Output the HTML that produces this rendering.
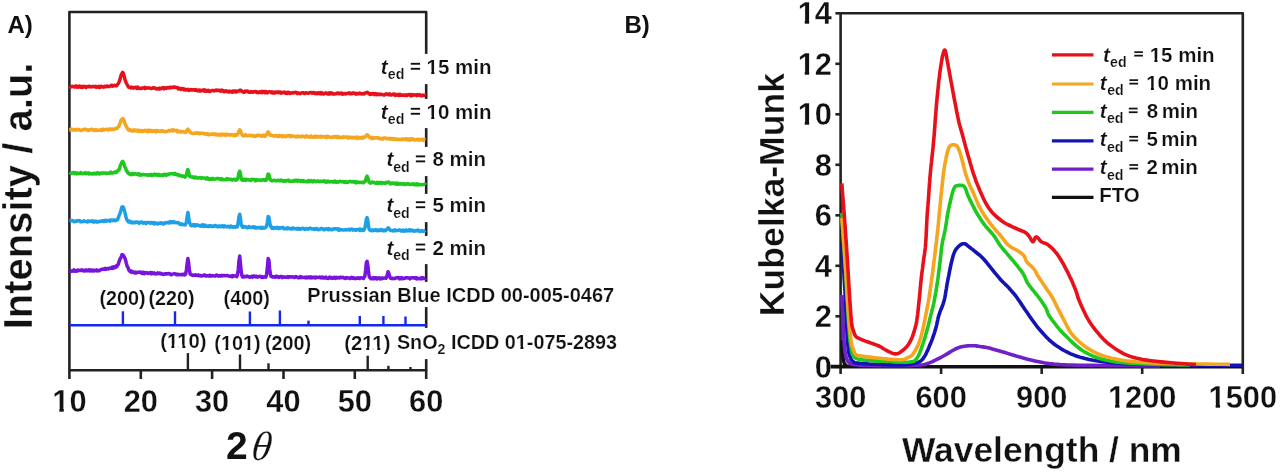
<!DOCTYPE html>
<html><head><meta charset="utf-8"><title>Figure</title>
<style>html,body{margin:0;padding:0;background:#fff;width:1280px;height:474px;overflow:hidden}
svg{display:block;filter:blur(0.5px);font-family:"Liberation Sans", sans-serif}</style></head>
<body>
<svg width="1280" height="474" viewBox="0 0 1280 474">
<rect width="1280" height="474" fill="#fff"/>
<g stroke="#222" stroke-width="2.6" fill="none" stroke-linecap="butt">
<path d="M69.4 12.0 L426.2 12.0 L426.2 370.2 L69.4 370.2 Z" stroke-linejoin="round"/>
<line x1="69.4" y1="370.2" x2="69.4" y2="379.0"/>
<line x1="140.8" y1="370.2" x2="140.8" y2="379.0"/>
<line x1="212.1" y1="370.2" x2="212.1" y2="379.0"/>
<line x1="283.5" y1="370.2" x2="283.5" y2="379.0"/>
<line x1="354.8" y1="370.2" x2="354.8" y2="379.0"/>
<line x1="426.2" y1="370.2" x2="426.2" y2="379.0"/>
</g>
<path d="M69.4 86.1 L70.2 87.1 L70.9 87.0 L71.7 86.3 L72.4 86.6 L73.2 86.6 L73.9 86.9 L74.7 87.1 L75.4 86.1 L76.2 86.0 L76.9 87.2 L77.7 86.6 L78.4 87.1 L79.2 86.0 L79.9 86.7 L80.7 87.1 L81.4 86.4 L82.2 87.4 L82.9 87.4 L83.7 86.2 L84.4 86.2 L85.2 86.9 L85.9 87.5 L86.7 86.7 L87.4 86.5 L88.2 86.8 L88.9 86.2 L89.7 86.5 L90.4 86.8 L91.2 86.9 L91.9 86.5 L92.7 86.5 L93.4 86.5 L94.2 86.8 L94.9 86.6 L95.7 86.2 L96.4 87.3 L97.2 86.9 L97.9 87.0 L98.7 86.4 L99.4 87.5 L100.2 87.2 L100.9 86.2 L101.7 86.4 L102.4 86.9 L103.2 86.8 L103.9 87.1 L104.7 86.3 L105.4 86.8 L106.2 86.5 L106.9 86.0 L107.7 86.3 L108.4 86.6 L109.2 86.5 L109.9 86.0 L110.7 86.0 L111.4 85.2 L112.2 85.5 L112.9 86.2 L113.7 85.6 L114.4 85.3 L115.2 85.7 L115.9 85.9 L116.7 85.6 L117.4 84.6 L118.2 83.7 L118.9 82.3 L119.7 80.5 L120.4 77.6 L121.2 75.0 L121.9 73.5 L122.7 72.4 L123.4 73.4 L124.2 76.4 L124.9 79.4 L125.7 81.5 L126.4 83.4 L127.2 84.6 L127.9 86.1 L128.7 87.3 L129.4 87.3 L130.2 87.2 L130.9 87.8 L131.7 87.0 L132.4 87.4 L133.2 88.1 L133.9 87.7 L134.7 87.5 L135.4 87.3 L136.2 87.8 L136.9 88.4 L137.7 87.1 L138.4 88.2 L139.2 88.3 L139.9 88.4 L140.7 88.3 L141.4 88.4 L142.2 88.0 L142.9 88.1 L143.7 87.9 L144.4 87.4 L145.2 88.6 L145.9 88.2 L146.7 87.7 L147.4 88.1 L148.2 88.1 L148.9 88.0 L149.7 88.0 L150.4 88.3 L151.2 88.4 L151.9 88.4 L152.7 88.2 L153.4 87.6 L154.2 87.9 L154.9 87.9 L155.7 88.5 L156.4 88.9 L157.2 88.8 L157.9 88.8 L158.7 88.9 L159.4 88.1 L160.2 88.9 L160.9 88.7 L161.7 87.9 L162.4 87.8 L163.2 87.8 L163.9 88.8 L164.7 88.0 L165.4 87.8 L166.2 88.4 L166.9 88.0 L167.7 87.5 L168.4 87.5 L169.2 87.9 L169.9 87.2 L170.7 87.3 L171.4 87.8 L172.2 87.3 L172.9 87.1 L173.7 87.4 L174.4 86.8 L175.2 87.4 L175.9 87.6 L176.7 87.5 L177.4 87.6 L178.2 88.9 L178.9 88.5 L179.7 88.3 L180.4 89.0 L181.2 89.5 L181.9 88.5 L182.7 88.6 L183.4 88.9 L184.2 89.8 L184.9 89.0 L185.7 89.9 L186.4 89.9 L187.2 89.7 L187.9 89.3 L188.7 90.4 L189.4 90.2 L190.2 89.9 L190.9 89.5 L191.7 90.1 L192.4 89.8 L193.2 90.1 L193.9 89.8 L194.7 90.2 L195.4 89.5 L196.2 89.9 L196.9 90.8 L197.7 90.7 L198.4 90.0 L199.2 90.8 L199.9 90.1 L200.7 91.0 L201.4 90.8 L202.2 90.3 L202.9 90.1 L203.7 89.8 L204.4 91.1 L205.2 90.0 L205.9 91.1 L206.7 91.3 L207.4 90.8 L208.2 90.3 L208.9 91.3 L209.7 91.5 L210.4 91.1 L211.2 90.8 L211.9 90.6 L212.7 90.6 L213.4 90.4 L214.2 91.0 L214.9 90.6 L215.7 90.2 L216.4 90.0 L217.2 90.7 L217.9 90.2 L218.7 90.4 L219.4 90.2 L220.2 91.1 L220.9 91.2 L221.7 90.1 L222.4 90.5 L223.2 90.7 L223.9 91.7 L224.7 91.5 L225.4 91.0 L226.2 90.8 L226.9 91.5 L227.7 91.7 L228.4 91.9 L229.2 91.1 L229.9 91.9 L230.7 91.6 L231.4 91.4 L232.2 92.1 L232.9 91.0 L233.7 91.8 L234.4 90.9 L235.2 91.0 L235.9 92.0 L236.7 91.0 L237.4 91.6 L238.2 91.1 L238.9 91.1 L239.7 90.2 L240.4 90.2 L241.2 90.5 L241.9 91.6 L242.7 91.6 L243.4 92.2 L244.2 92.2 L244.9 91.2 L245.7 91.8 L246.4 91.2 L247.2 91.1 L247.9 91.2 L248.7 92.3 L249.4 92.2 L250.2 92.3 L250.9 91.6 L251.7 92.0 L252.4 92.3 L253.2 91.7 L253.9 92.0 L254.7 91.6 L255.4 91.4 L256.1 91.7 L256.9 92.5 L257.6 92.1 L258.4 92.6 L259.1 92.0 L259.9 91.8 L260.6 92.5 L261.4 92.6 L262.1 91.4 L262.9 92.4 L263.6 91.6 L264.4 91.6 L265.1 92.7 L265.9 91.6 L266.6 91.9 L267.4 92.9 L268.1 92.1 L268.9 91.7 L269.6 91.8 L270.4 91.9 L271.1 92.7 L271.9 91.8 L272.6 92.9 L273.4 92.2 L274.1 93.1 L274.9 93.0 L275.6 92.1 L276.4 92.1 L277.1 92.4 L277.9 91.9 L278.6 92.7 L279.4 91.9 L280.1 91.9 L280.9 93.2 L281.6 92.3 L282.4 92.7 L283.1 92.5 L283.9 92.4 L284.6 92.0 L285.4 93.2 L286.1 93.3 L286.9 93.4 L287.6 92.2 L288.4 92.3 L289.1 92.9 L289.9 93.4 L290.6 92.8 L291.4 93.1 L292.1 93.0 L292.9 92.5 L293.6 92.9 L294.4 92.6 L295.1 92.5 L295.9 92.3 L296.6 92.6 L297.4 93.6 L298.1 92.9 L298.9 93.2 L299.6 93.2 L300.4 93.6 L301.1 92.9 L301.9 92.8 L302.6 92.8 L303.4 92.8 L304.1 93.5 L304.9 93.6 L305.6 92.8 L306.4 92.8 L307.1 93.1 L307.9 93.2 L308.6 93.2 L309.4 92.8 L310.1 92.5 L310.9 92.8 L311.6 92.5 L312.4 93.2 L313.1 92.6 L313.9 92.6 L314.6 93.4 L315.4 92.9 L316.1 93.6 L316.9 93.2 L317.6 93.7 L318.4 92.7 L319.1 93.2 L319.9 93.7 L320.6 92.7 L321.4 93.9 L322.1 92.8 L322.9 93.7 L323.6 94.0 L324.4 93.7 L325.1 93.1 L325.9 92.8 L326.6 93.3 L327.4 93.9 L328.1 93.1 L328.9 93.9 L329.6 92.9 L330.4 93.9 L331.1 92.7 L331.9 93.1 L332.6 94.0 L333.4 93.8 L334.1 94.0 L334.9 93.9 L335.6 93.8 L336.4 93.7 L337.1 93.0 L337.9 93.4 L338.6 93.0 L339.4 93.8 L340.1 93.7 L340.9 93.1 L341.6 92.9 L342.4 94.2 L343.1 94.0 L343.9 93.6 L344.6 93.6 L345.4 94.0 L346.1 93.5 L346.9 93.4 L347.6 93.4 L348.4 93.2 L349.1 92.9 L349.9 93.8 L350.6 93.5 L351.4 93.7 L352.1 93.0 L352.9 93.4 L353.6 93.1 L354.4 93.1 L355.1 93.3 L355.9 94.1 L356.6 93.5 L357.4 93.6 L358.1 93.9 L358.9 93.3 L359.6 93.0 L360.4 93.8 L361.1 93.7 L361.9 94.0 L362.6 93.7 L363.4 93.9 L364.1 93.9 L364.9 92.9 L365.6 92.9 L366.4 92.6 L367.1 92.2 L367.9 92.7 L368.6 93.3 L369.4 94.1 L370.1 94.4 L370.9 93.6 L371.6 94.2 L372.4 93.4 L373.1 93.4 L373.9 94.1 L374.6 94.6 L375.4 93.6 L376.1 94.5 L376.9 94.7 L377.6 93.9 L378.4 94.4 L379.1 94.7 L379.9 94.0 L380.6 94.5 L381.4 94.6 L382.1 94.4 L382.9 94.8 L383.6 94.9 L384.4 95.0 L385.1 94.5 L385.9 93.9 L386.6 94.1 L387.4 94.0 L388.1 94.6 L388.9 94.8 L389.6 93.9 L390.4 94.8 L391.1 94.9 L391.9 94.4 L392.6 94.6 L393.4 94.1 L394.1 95.0 L394.9 94.0 L395.6 95.4 L396.4 95.1 L397.1 94.9 L397.9 94.4 L398.6 95.4 L399.4 95.4 L400.1 94.3 L400.9 95.2 L401.6 95.3 L402.4 95.1 L403.1 95.2 L403.9 94.9 L404.6 95.5 L405.4 95.6 L406.1 94.8 L406.9 95.4 L407.6 95.0 L408.4 94.6 L409.1 94.8 L409.9 94.6 L410.6 95.7 L411.4 95.8 L412.1 94.6 L412.9 95.3 L413.6 95.1 L414.4 94.7 L415.1 95.0 L415.9 94.9 L416.6 95.7 L417.4 94.6 L418.1 94.9 L418.9 95.3 L419.6 94.7 L420.4 95.6 L421.1 95.6 L421.9 95.9 L422.6 95.1 L423.4 95.2 L424.1 95.6 L424.9 95.2 L425.6 95.7" fill="none" stroke="#e8101a" stroke-width="3.5" stroke-linejoin="round"/>
<path d="M69.4 130.2 L70.2 130.2 L70.9 129.0 L71.7 129.1 L72.4 130.1 L73.2 130.0 L73.9 129.9 L74.7 129.4 L75.4 129.9 L76.2 129.9 L76.9 129.8 L77.7 129.3 L78.4 129.7 L79.2 129.6 L79.9 130.1 L80.7 130.5 L81.4 130.4 L82.2 129.9 L82.9 129.8 L83.7 129.5 L84.4 129.2 L85.2 129.2 L85.9 129.8 L86.7 129.6 L87.4 129.7 L88.2 130.5 L88.9 130.0 L89.7 130.0 L90.4 129.6 L91.2 129.3 L91.9 129.7 L92.7 129.4 L93.4 130.0 L94.2 130.6 L94.9 130.2 L95.7 129.5 L96.4 130.5 L97.2 130.3 L97.9 130.2 L98.7 130.4 L99.4 130.2 L100.2 130.2 L100.9 129.6 L101.7 130.4 L102.4 130.3 L103.2 129.2 L103.9 129.9 L104.7 129.8 L105.4 129.4 L106.2 129.4 L106.9 129.3 L107.7 129.9 L108.4 129.2 L109.2 129.6 L109.9 128.9 L110.7 129.5 L111.4 129.5 L112.2 128.9 L112.9 129.0 L113.7 129.4 L114.4 129.1 L115.2 128.7 L115.9 128.3 L116.7 128.2 L117.4 128.3 L118.2 126.7 L118.9 126.5 L119.7 123.8 L120.4 122.6 L121.2 119.8 L121.9 119.3 L122.7 118.6 L123.4 119.1 L124.2 120.9 L124.9 123.3 L125.7 125.4 L126.4 126.8 L127.2 128.0 L127.9 129.2 L128.7 130.3 L129.4 130.1 L130.2 129.5 L130.9 130.7 L131.7 130.6 L132.4 131.0 L133.2 130.0 L133.9 130.9 L134.7 129.9 L135.4 130.8 L136.2 130.3 L136.9 130.3 L137.7 131.3 L138.4 130.2 L139.2 130.8 L139.9 131.3 L140.7 130.5 L141.4 130.5 L142.2 131.4 L142.9 130.8 L143.7 131.2 L144.4 130.3 L145.2 130.8 L145.9 130.5 L146.7 131.3 L147.4 130.4 L148.2 131.7 L148.9 130.4 L149.7 131.4 L150.4 130.4 L151.2 130.8 L151.9 131.6 L152.7 130.7 L153.4 130.7 L154.2 131.4 L154.9 131.0 L155.7 130.6 L156.4 131.9 L157.2 130.7 L157.9 130.6 L158.7 131.0 L159.4 131.4 L160.2 131.6 L160.9 130.7 L161.7 131.1 L162.4 130.6 L163.2 131.2 L163.9 131.6 L164.7 131.5 L165.4 131.7 L166.2 131.4 L166.9 131.5 L167.7 131.2 L168.4 130.8 L169.2 130.4 L169.9 130.9 L170.7 130.3 L171.4 129.9 L172.2 130.3 L172.9 130.9 L173.7 129.9 L174.4 130.6 L175.2 130.4 L175.9 130.8 L176.7 130.4 L177.4 131.8 L178.2 131.0 L178.9 131.7 L179.7 131.6 L180.4 131.2 L181.2 132.2 L181.9 131.7 L182.7 131.7 L183.4 131.8 L184.2 132.0 L184.9 131.9 L185.7 132.4 L186.4 131.1 L187.2 130.1 L187.9 129.2 L188.7 130.4 L189.4 131.1 L190.2 132.5 L190.9 132.6 L191.7 133.2 L192.4 133.3 L193.2 133.6 L193.9 133.5 L194.7 132.9 L195.4 133.2 L196.2 133.4 L196.9 132.7 L197.7 132.8 L198.4 133.4 L199.2 133.0 L199.9 133.9 L200.7 133.3 L201.4 133.1 L202.2 133.3 L202.9 133.4 L203.7 133.5 L204.4 133.9 L205.2 133.9 L205.9 133.7 L206.7 134.2 L207.4 133.7 L208.2 134.7 L208.9 134.8 L209.7 134.5 L210.4 134.2 L211.2 134.3 L211.9 134.4 L212.7 133.7 L213.4 134.2 L214.2 134.4 L214.9 134.0 L215.7 133.9 L216.4 134.9 L217.2 134.3 L217.9 134.5 L218.7 135.1 L219.4 134.7 L220.2 134.3 L220.9 135.3 L221.7 134.5 L222.4 134.0 L223.2 135.0 L223.9 134.2 L224.7 134.5 L225.4 135.3 L226.2 135.1 L226.9 134.2 L227.7 134.8 L228.4 134.8 L229.2 134.9 L229.9 134.5 L230.7 135.1 L231.4 134.4 L232.2 134.7 L232.9 134.9 L233.7 135.7 L234.4 134.5 L235.2 135.5 L235.9 134.7 L236.7 135.2 L237.4 134.4 L238.2 133.1 L238.9 131.3 L239.7 129.8 L240.4 130.8 L241.2 133.0 L241.9 134.2 L242.7 135.8 L243.4 135.5 L244.2 136.0 L244.9 135.7 L245.7 134.7 L246.4 135.6 L247.2 135.8 L247.9 135.7 L248.7 135.4 L249.4 135.3 L250.2 135.4 L250.9 135.9 L251.7 135.2 L252.4 135.5 L253.2 135.5 L253.9 136.2 L254.7 136.0 L255.4 136.2 L256.1 136.0 L256.9 135.3 L257.6 135.2 L258.4 135.6 L259.1 135.3 L259.9 135.5 L260.6 135.9 L261.4 136.2 L262.1 135.8 L262.9 136.1 L263.6 135.1 L264.4 135.5 L265.1 136.4 L265.9 135.1 L266.6 134.8 L267.4 133.0 L268.1 131.8 L268.9 133.0 L269.6 134.5 L270.4 135.3 L271.1 135.1 L271.9 135.5 L272.6 135.5 L273.4 136.1 L274.1 136.1 L274.9 135.8 L275.6 135.9 L276.4 135.4 L277.1 136.0 L277.9 136.6 L278.6 136.3 L279.4 135.4 L280.1 136.0 L280.9 136.3 L281.6 135.7 L282.4 136.6 L283.1 136.0 L283.9 136.3 L284.6 135.9 L285.4 136.7 L286.1 136.5 L286.9 136.2 L287.6 135.6 L288.4 136.0 L289.1 135.5 L289.9 136.3 L290.6 136.7 L291.4 135.7 L292.1 136.2 L292.9 136.2 L293.6 136.1 L294.4 136.5 L295.1 136.8 L295.9 136.5 L296.6 136.2 L297.4 136.9 L298.1 136.0 L298.9 136.6 L299.6 136.5 L300.4 136.7 L301.1 136.8 L301.9 136.0 L302.6 136.5 L303.4 136.2 L304.1 136.6 L304.9 137.1 L305.6 136.6 L306.4 135.8 L307.1 136.4 L307.9 136.8 L308.6 137.0 L309.4 136.7 L310.1 137.0 L310.9 135.9 L311.6 137.2 L312.4 136.9 L313.1 136.7 L313.9 137.2 L314.6 137.2 L315.4 136.1 L316.1 137.1 L316.9 137.1 L317.6 136.3 L318.4 137.1 L319.1 136.9 L319.9 136.3 L320.6 137.2 L321.4 136.3 L322.1 137.0 L322.9 136.7 L323.6 136.5 L324.4 136.9 L325.1 136.8 L325.9 136.5 L326.6 137.6 L327.4 136.3 L328.1 136.2 L328.9 136.9 L329.6 137.4 L330.4 137.2 L331.1 137.4 L331.9 137.0 L332.6 137.3 L333.4 136.8 L334.1 136.7 L334.9 137.1 L335.6 136.4 L336.4 136.5 L337.1 137.5 L337.9 136.7 L338.6 137.5 L339.4 137.6 L340.1 137.1 L340.9 137.5 L341.6 137.6 L342.4 137.8 L343.1 136.8 L343.9 136.8 L344.6 137.1 L345.4 137.3 L346.1 137.1 L346.9 136.7 L347.6 137.5 L348.4 138.1 L349.1 137.2 L349.9 137.5 L350.6 137.3 L351.4 137.4 L352.1 138.0 L352.9 137.2 L353.6 137.7 L354.4 137.5 L355.1 137.6 L355.9 138.2 L356.6 137.0 L357.4 138.1 L358.1 137.3 L358.9 137.8 L359.6 138.1 L360.4 137.9 L361.1 137.5 L361.9 138.2 L362.6 137.1 L363.4 137.9 L364.1 137.4 L364.9 137.0 L365.6 136.4 L366.4 135.2 L367.1 134.7 L367.9 135.1 L368.6 136.2 L369.4 137.4 L370.1 137.5 L370.9 137.6 L371.6 138.6 L372.4 137.5 L373.1 138.5 L373.9 137.9 L374.6 137.9 L375.4 137.9 L376.1 137.6 L376.9 138.1 L377.6 137.7 L378.4 138.2 L379.1 138.0 L379.9 138.8 L380.6 138.9 L381.4 138.3 L382.1 138.6 L382.9 139.0 L383.6 138.2 L384.4 137.9 L385.1 138.1 L385.9 138.1 L386.6 138.8 L387.4 138.4 L388.1 138.4 L388.9 139.0 L389.6 138.3 L390.4 139.1 L391.1 138.9 L391.9 138.6 L392.6 139.2 L393.4 138.5 L394.1 139.3 L394.9 139.4 L395.6 138.8 L396.4 139.1 L397.1 139.5 L397.9 139.3 L398.6 139.3 L399.4 139.5 L400.1 139.6 L400.9 139.4 L401.6 139.7 L402.4 138.8 L403.1 139.3 L403.9 139.4 L404.6 139.0 L405.4 139.0 L406.1 138.7 L406.9 139.9 L407.6 139.0 L408.4 139.2 L409.1 139.9 L409.9 138.9 L410.6 140.0 L411.4 138.9 L412.1 138.7 L412.9 139.2 L413.6 139.3 L414.4 140.1 L415.1 140.1 L415.9 139.9 L416.6 139.5 L417.4 139.7 L418.1 139.3 L418.9 140.1 L419.6 139.5 L420.4 139.4 L421.1 139.9 L421.9 139.3 L422.6 139.5 L423.4 140.4 L424.1 139.3 L424.9 139.4 L425.6 139.5" fill="none" stroke="#f5a51e" stroke-width="3.5" stroke-linejoin="round"/>
<path d="M69.4 172.6 L70.2 173.1 L70.9 172.8 L71.7 173.2 L72.4 173.2 L73.2 172.5 L73.9 172.4 L74.7 173.6 L75.4 172.8 L76.2 172.8 L76.9 173.8 L77.7 173.1 L78.4 173.6 L79.2 173.2 L79.9 173.4 L80.7 172.7 L81.4 173.4 L82.2 173.8 L82.9 173.3 L83.7 173.6 L84.4 173.5 L85.2 172.7 L85.9 173.7 L86.7 173.5 L87.4 173.1 L88.2 172.7 L88.9 173.9 L89.7 173.3 L90.4 173.7 L91.2 173.9 L91.9 173.7 L92.7 174.0 L93.4 173.3 L94.2 173.8 L94.9 173.3 L95.7 174.0 L96.4 173.9 L97.2 172.8 L97.9 172.9 L98.7 172.9 L99.4 174.0 L100.2 173.2 L100.9 173.4 L101.7 172.9 L102.4 173.2 L103.2 173.0 L103.9 172.9 L104.7 173.1 L105.4 173.1 L106.2 173.5 L106.9 173.1 L107.7 173.4 L108.4 173.2 L109.2 173.3 L109.9 172.8 L110.7 172.0 L111.4 173.0 L112.2 173.1 L112.9 173.0 L113.7 172.5 L114.4 172.6 L115.2 171.9 L115.9 172.7 L116.7 172.1 L117.4 171.3 L118.2 170.1 L118.9 170.0 L119.7 168.4 L120.4 165.0 L121.2 164.0 L121.9 162.1 L122.7 161.4 L123.4 162.4 L124.2 164.8 L124.9 167.2 L125.7 168.2 L126.4 170.8 L127.2 171.4 L127.9 173.1 L128.7 173.1 L129.4 174.1 L130.2 174.4 L130.9 173.9 L131.7 174.6 L132.4 173.7 L133.2 173.5 L133.9 174.3 L134.7 173.5 L135.4 173.8 L136.2 174.2 L136.9 174.5 L137.7 173.9 L138.4 173.8 L139.2 175.0 L139.9 174.2 L140.7 175.2 L141.4 175.1 L142.2 174.4 L142.9 174.5 L143.7 174.7 L144.4 174.8 L145.2 174.8 L145.9 174.8 L146.7 174.9 L147.4 175.3 L148.2 174.8 L148.9 174.7 L149.7 175.1 L150.4 174.4 L151.2 174.5 L151.9 175.5 L152.7 174.9 L153.4 175.0 L154.2 174.2 L154.9 174.8 L155.7 175.1 L156.4 174.3 L157.2 175.1 L157.9 175.2 L158.7 174.4 L159.4 175.2 L160.2 175.0 L160.9 175.3 L161.7 174.8 L162.4 175.3 L163.2 175.4 L163.9 174.3 L164.7 174.3 L165.4 175.1 L166.2 175.4 L166.9 174.3 L167.7 174.5 L168.4 174.6 L169.2 174.0 L169.9 173.9 L170.7 173.7 L171.4 173.7 L172.2 173.9 L172.9 173.5 L173.7 173.6 L174.4 174.3 L175.2 173.4 L175.9 174.4 L176.7 174.8 L177.4 174.5 L178.2 174.7 L178.9 175.7 L179.7 175.2 L180.4 175.4 L181.2 175.9 L181.9 176.4 L182.7 175.8 L183.4 176.2 L184.2 176.3 L184.9 177.1 L185.7 176.3 L186.4 175.3 L187.2 171.1 L187.9 169.5 L188.7 172.3 L189.4 175.9 L190.2 176.7 L190.9 176.8 L191.7 176.7 L192.4 177.3 L193.2 176.9 L193.9 177.8 L194.7 177.9 L195.4 177.1 L196.2 177.3 L196.9 178.1 L197.7 177.9 L198.4 178.2 L199.2 177.6 L199.9 177.4 L200.7 177.6 L201.4 178.4 L202.2 177.7 L202.9 177.9 L203.7 178.1 L204.4 178.1 L205.2 178.2 L205.9 178.9 L206.7 177.9 L207.4 177.8 L208.2 179.2 L208.9 179.1 L209.7 179.3 L210.4 178.6 L211.2 179.3 L211.9 179.3 L212.7 178.4 L213.4 179.1 L214.2 179.3 L214.9 179.1 L215.7 178.9 L216.4 178.6 L217.2 178.7 L217.9 178.6 L218.7 178.4 L219.4 179.1 L220.2 178.7 L220.9 179.5 L221.7 178.5 L222.4 179.7 L223.2 179.4 L223.9 179.8 L224.7 179.8 L225.4 179.8 L226.2 179.4 L226.9 178.6 L227.7 179.7 L228.4 178.9 L229.2 179.1 L229.9 179.6 L230.7 179.5 L231.4 179.3 L232.2 180.1 L232.9 179.7 L233.7 179.3 L234.4 179.2 L235.2 180.1 L235.9 179.6 L236.7 180.0 L237.4 179.0 L238.2 176.8 L238.9 173.1 L239.7 171.2 L240.4 173.3 L241.2 178.2 L241.9 180.1 L242.7 180.2 L243.4 180.3 L244.2 179.2 L244.9 180.1 L245.7 180.4 L246.4 179.3 L247.2 179.6 L247.9 179.6 L248.7 180.0 L249.4 179.9 L250.2 180.0 L250.9 180.4 L251.7 179.3 L252.4 179.4 L253.2 179.5 L253.9 179.6 L254.7 179.5 L255.4 180.8 L256.1 180.6 L256.9 179.6 L257.6 180.2 L258.4 179.9 L259.1 179.9 L259.9 180.0 L260.6 180.4 L261.4 180.3 L262.1 180.0 L262.9 179.8 L263.6 180.0 L264.4 179.8 L265.1 180.4 L265.9 180.5 L266.6 179.4 L267.4 176.8 L268.1 174.1 L268.9 174.6 L269.6 177.8 L270.4 180.1 L271.1 180.2 L271.9 180.9 L272.6 180.6 L273.4 180.4 L274.1 180.3 L274.9 180.5 L275.6 180.8 L276.4 180.4 L277.1 180.8 L277.9 180.5 L278.6 180.2 L279.4 180.6 L280.1 180.9 L280.9 180.0 L281.6 180.5 L282.4 180.5 L283.1 181.2 L283.9 181.3 L284.6 180.5 L285.4 181.3 L286.1 181.1 L286.9 180.4 L287.6 180.7 L288.4 180.2 L289.1 181.2 L289.9 181.0 L290.6 181.4 L291.4 181.2 L292.1 181.1 L292.9 181.2 L293.6 181.0 L294.4 180.3 L295.1 181.0 L295.9 180.2 L296.6 180.4 L297.4 181.3 L298.1 180.3 L298.9 180.4 L299.6 180.4 L300.4 181.5 L301.1 180.6 L301.9 180.4 L302.6 181.5 L303.4 180.5 L304.1 181.6 L304.9 181.3 L305.6 181.6 L306.4 181.8 L307.1 181.3 L307.9 181.6 L308.6 180.5 L309.4 181.6 L310.1 181.2 L310.9 181.5 L311.6 180.7 L312.4 181.6 L313.1 181.9 L313.9 180.7 L314.6 181.0 L315.4 181.4 L316.1 181.8 L316.9 181.0 L317.6 180.9 L318.4 181.0 L319.1 181.5 L319.9 181.7 L320.6 181.3 L321.4 181.2 L322.1 181.3 L322.9 181.2 L323.6 181.4 L324.4 180.9 L325.1 181.5 L325.9 182.2 L326.6 181.4 L327.4 181.9 L328.1 181.1 L328.9 181.8 L329.6 181.9 L330.4 181.8 L331.1 181.6 L331.9 181.6 L332.6 181.8 L333.4 182.2 L334.1 181.2 L334.9 181.1 L335.6 182.0 L336.4 182.3 L337.1 181.8 L337.9 181.7 L338.6 182.1 L339.4 181.3 L340.1 181.5 L340.9 181.4 L341.6 181.9 L342.4 181.6 L343.1 181.5 L343.9 182.1 L344.6 182.5 L345.4 181.6 L346.1 182.2 L346.9 181.8 L347.6 182.4 L348.4 182.1 L349.1 181.6 L349.9 181.6 L350.6 181.3 L351.4 182.0 L352.1 181.9 L352.9 181.6 L353.6 181.9 L354.4 181.8 L355.1 182.5 L355.9 181.6 L356.6 182.8 L357.4 182.1 L358.1 182.3 L358.9 182.1 L359.6 182.6 L360.4 182.6 L361.1 182.3 L361.9 182.2 L362.6 182.5 L363.4 182.7 L364.1 182.0 L364.9 181.7 L365.6 180.2 L366.4 177.2 L367.1 176.2 L367.9 178.0 L368.6 181.0 L369.4 182.3 L370.1 183.0 L370.9 183.0 L371.6 182.2 L372.4 182.1 L373.1 182.3 L373.9 182.2 L374.6 182.9 L375.4 183.2 L376.1 183.3 L376.9 182.4 L377.6 183.3 L378.4 182.6 L379.1 182.7 L379.9 183.2 L380.6 182.3 L381.4 182.4 L382.1 183.4 L382.9 182.7 L383.6 182.8 L384.4 183.2 L385.1 183.3 L385.9 182.4 L386.6 182.8 L387.4 182.5 L388.1 182.2 L388.9 182.0 L389.6 183.0 L390.4 183.9 L391.1 183.2 L391.9 183.4 L392.6 182.9 L393.4 183.1 L394.1 183.7 L394.9 183.0 L395.6 184.1 L396.4 184.1 L397.1 183.0 L397.9 184.2 L398.6 183.5 L399.4 184.1 L400.1 184.1 L400.9 183.5 L401.6 184.0 L402.4 184.0 L403.1 184.3 L403.9 183.5 L404.6 184.3 L405.4 184.6 L406.1 184.2 L406.9 184.0 L407.6 183.5 L408.4 184.1 L409.1 183.9 L409.9 184.4 L410.6 184.4 L411.4 184.3 L412.1 183.8 L412.9 184.5 L413.6 184.5 L414.4 183.9 L415.1 184.9 L415.9 184.6 L416.6 183.9 L417.4 185.0 L418.1 184.0 L418.9 184.3 L419.6 184.8 L420.4 184.7 L421.1 184.7 L421.9 184.8 L422.6 184.6 L423.4 184.4 L424.1 184.3 L424.9 184.1 L425.6 185.1" fill="none" stroke="#1ec81e" stroke-width="3.5" stroke-linejoin="round"/>
<path d="M69.4 220.6 L70.2 220.5 L70.9 220.9 L71.7 220.6 L72.4 220.5 L73.2 220.9 L73.9 221.7 L74.7 221.5 L75.4 221.5 L76.2 220.7 L76.9 221.2 L77.7 220.8 L78.4 220.7 L79.2 220.6 L79.9 220.8 L80.7 221.8 L81.4 221.7 L82.2 221.7 L82.9 221.7 L83.7 220.8 L84.4 221.0 L85.2 221.5 L85.9 221.6 L86.7 221.8 L87.4 221.9 L88.2 220.8 L88.9 221.5 L89.7 221.6 L90.4 221.4 L91.2 220.9 L91.9 221.4 L92.7 220.8 L93.4 222.0 L94.2 221.9 L94.9 221.5 L95.7 221.1 L96.4 222.0 L97.2 221.5 L97.9 221.9 L98.7 221.8 L99.4 221.3 L100.2 221.2 L100.9 221.4 L101.7 221.1 L102.4 220.7 L103.2 220.8 L103.9 221.5 L104.7 220.4 L105.4 220.3 L106.2 221.1 L106.9 220.5 L107.7 220.8 L108.4 220.7 L109.2 220.4 L109.9 221.3 L110.7 220.1 L111.4 220.4 L112.2 220.0 L112.9 220.6 L113.7 220.1 L114.4 220.2 L115.2 220.7 L115.9 220.0 L116.7 220.0 L117.4 220.0 L118.2 217.8 L118.9 216.1 L119.7 214.1 L120.4 212.1 L121.2 209.4 L121.9 207.1 L122.7 206.7 L123.4 207.5 L124.2 210.1 L124.9 212.3 L125.7 216.0 L126.4 218.6 L127.2 220.4 L127.9 221.1 L128.7 222.0 L129.4 221.0 L130.2 221.6 L130.9 222.7 L131.7 222.5 L132.4 222.0 L133.2 222.9 L133.9 222.5 L134.7 222.8 L135.4 222.1 L136.2 222.1 L136.9 222.5 L137.7 222.1 L138.4 222.5 L139.2 223.3 L139.9 222.5 L140.7 222.1 L141.4 222.1 L142.2 222.3 L142.9 223.2 L143.7 222.7 L144.4 222.6 L145.2 222.4 L145.9 223.6 L146.7 222.9 L147.4 222.6 L148.2 222.4 L148.9 222.4 L149.7 222.6 L150.4 223.3 L151.2 222.6 L151.9 222.5 L152.7 223.2 L153.4 222.8 L154.2 223.9 L154.9 222.7 L155.7 223.3 L156.4 223.7 L157.2 223.2 L157.9 224.0 L158.7 223.3 L159.4 223.0 L160.2 223.3 L160.9 222.8 L161.7 223.3 L162.4 223.1 L163.2 223.9 L163.9 223.8 L164.7 223.3 L165.4 222.6 L166.2 222.8 L166.9 222.7 L167.7 222.5 L168.4 222.3 L169.2 223.0 L169.9 221.8 L170.7 221.5 L171.4 222.6 L172.2 222.0 L172.9 222.5 L173.7 221.7 L174.4 222.5 L175.2 222.3 L175.9 222.7 L176.7 222.8 L177.4 222.8 L178.2 222.5 L178.9 222.9 L179.7 224.1 L180.4 224.4 L181.2 224.6 L181.9 223.9 L182.7 224.5 L183.4 224.8 L184.2 224.7 L184.9 225.0 L185.7 224.1 L186.4 221.6 L187.2 216.2 L187.9 212.5 L188.7 217.2 L189.4 222.7 L190.2 223.9 L190.9 225.6 L191.7 225.7 L192.4 225.3 L193.2 224.5 L193.9 225.7 L194.7 224.7 L195.4 225.9 L196.2 225.5 L196.9 224.7 L197.7 224.9 L198.4 225.6 L199.2 225.5 L199.9 225.8 L200.7 226.1 L201.4 225.2 L202.2 224.9 L202.9 226.3 L203.7 225.0 L204.4 226.3 L205.2 225.2 L205.9 226.3 L206.7 226.3 L207.4 226.4 L208.2 226.0 L208.9 226.5 L209.7 225.6 L210.4 226.3 L211.2 225.8 L211.9 226.6 L212.7 226.5 L213.4 226.1 L214.2 226.2 L214.9 225.5 L215.7 225.6 L216.4 226.4 L217.2 226.2 L217.9 226.8 L218.7 226.5 L219.4 225.8 L220.2 226.2 L220.9 226.8 L221.7 226.4 L222.4 225.7 L223.2 226.9 L223.9 226.9 L224.7 225.9 L225.4 226.6 L226.2 226.4 L226.9 227.0 L227.7 226.3 L228.4 226.3 L229.2 226.6 L229.9 227.3 L230.7 226.1 L231.4 226.2 L232.2 226.9 L232.9 227.3 L233.7 226.8 L234.4 226.7 L235.2 227.3 L235.9 227.3 L236.7 226.2 L237.4 226.7 L238.2 222.7 L238.9 216.7 L239.7 214.2 L240.4 217.9 L241.2 224.4 L241.9 226.1 L242.7 227.5 L243.4 226.6 L244.2 226.6 L244.9 227.1 L245.7 226.9 L246.4 227.2 L247.2 227.8 L247.9 227.5 L248.7 226.5 L249.4 227.0 L250.2 227.3 L250.9 227.3 L251.7 227.6 L252.4 227.3 L253.2 226.8 L253.9 227.0 L254.7 227.9 L255.4 227.2 L256.1 227.8 L256.9 228.1 L257.6 227.6 L258.4 227.7 L259.1 227.7 L259.9 227.3 L260.6 228.1 L261.4 227.5 L262.1 228.2 L262.9 227.3 L263.6 228.1 L264.4 228.1 L265.1 227.8 L265.9 227.4 L266.6 225.7 L267.4 222.3 L268.1 216.4 L268.9 217.1 L269.6 221.9 L270.4 225.9 L271.1 227.2 L271.9 228.3 L272.6 227.4 L273.4 228.5 L274.1 227.7 L274.9 228.0 L275.6 227.7 L276.4 228.1 L277.1 227.4 L277.9 227.9 L278.6 228.6 L279.4 227.6 L280.1 228.3 L280.9 227.8 L281.6 227.8 L282.4 227.5 L283.1 227.5 L283.9 228.8 L284.6 228.7 L285.4 228.6 L286.1 228.7 L286.9 228.9 L287.6 227.8 L288.4 228.4 L289.1 228.3 L289.9 228.4 L290.6 229.0 L291.4 228.7 L292.1 229.0 L292.9 227.9 L293.6 228.6 L294.4 228.7 L295.1 228.8 L295.9 228.7 L296.6 229.0 L297.4 228.3 L298.1 229.1 L298.9 228.4 L299.6 228.7 L300.4 229.2 L301.1 228.9 L301.9 228.4 L302.6 228.3 L303.4 228.4 L304.1 228.9 L304.9 229.4 L305.6 229.3 L306.4 228.6 L307.1 228.6 L307.9 229.2 L308.6 228.5 L309.4 228.7 L310.1 228.1 L310.9 228.4 L311.6 228.9 L312.4 229.1 L313.1 229.0 L313.9 228.7 L314.6 229.5 L315.4 229.1 L316.1 228.5 L316.9 228.4 L317.6 229.6 L318.4 229.7 L319.1 229.6 L319.9 229.2 L320.6 228.8 L321.4 228.5 L322.1 228.7 L322.9 228.7 L323.6 229.7 L324.4 229.7 L325.1 229.5 L325.9 228.7 L326.6 228.8 L327.4 228.9 L328.1 229.8 L328.9 228.7 L329.6 229.6 L330.4 229.5 L331.1 229.3 L331.9 229.9 L332.6 229.0 L333.4 229.3 L334.1 228.8 L334.9 228.8 L335.6 228.7 L336.4 229.1 L337.1 228.9 L337.9 228.8 L338.6 230.1 L339.4 229.1 L340.1 230.0 L340.9 229.8 L341.6 229.8 L342.4 229.7 L343.1 230.1 L343.9 230.1 L344.6 229.9 L345.4 229.6 L346.1 229.9 L346.9 229.9 L347.6 229.7 L348.4 229.6 L349.1 229.2 L349.9 230.1 L350.6 229.7 L351.4 229.1 L352.1 229.2 L352.9 230.2 L353.6 229.4 L354.4 229.6 L355.1 230.0 L355.9 230.3 L356.6 229.6 L357.4 229.7 L358.1 229.7 L358.9 229.2 L359.6 230.4 L360.4 229.2 L361.1 230.5 L361.9 229.4 L362.6 229.4 L363.4 230.4 L364.1 230.0 L364.9 227.7 L365.6 224.2 L366.4 218.9 L367.1 217.7 L367.9 220.9 L368.6 226.8 L369.4 229.8 L370.1 230.2 L370.9 230.6 L371.6 230.7 L372.4 229.9 L373.1 230.6 L373.9 230.6 L374.6 230.2 L375.4 229.6 L376.1 230.3 L376.9 230.7 L377.6 229.9 L378.4 230.4 L379.1 230.7 L379.9 230.3 L380.6 229.5 L381.4 230.4 L382.1 229.9 L382.9 230.7 L383.6 230.5 L384.4 230.0 L385.1 230.8 L385.9 230.4 L386.6 229.6 L387.4 229.1 L388.1 227.9 L388.9 228.3 L389.6 229.7 L390.4 230.3 L391.1 230.6 L391.9 230.5 L392.6 230.4 L393.4 231.0 L394.1 230.2 L394.9 229.8 L395.6 230.7 L396.4 230.4 L397.1 230.5 L397.9 230.6 L398.6 230.1 L399.4 230.0 L400.1 229.9 L400.9 230.9 L401.6 231.0 L402.4 230.8 L403.1 230.0 L403.9 231.2 L404.6 231.0 L405.4 230.5 L406.1 229.8 L406.9 231.0 L407.6 230.7 L408.4 230.7 L409.1 229.9 L409.9 230.9 L410.6 229.9 L411.4 230.6 L412.1 230.1 L412.9 230.4 L413.6 231.2 L414.4 231.0 L415.1 231.1 L415.9 230.4 L416.6 230.5 L417.4 230.8 L418.1 230.0 L418.9 230.6 L419.6 231.4 L420.4 231.1 L421.1 231.2 L421.9 230.5 L422.6 231.0 L423.4 231.2 L424.1 231.1 L424.9 230.7 L425.6 230.3" fill="none" stroke="#1ea0e6" stroke-width="3.5" stroke-linejoin="round"/>
<path d="M69.4 270.8 L70.2 270.9 L70.9 271.0 L71.7 271.2 L72.4 270.9 L73.2 271.2 L73.9 269.9 L74.7 270.5 L75.4 271.2 L76.2 270.8 L76.9 271.1 L77.7 270.0 L78.4 270.5 L79.2 270.2 L79.9 270.6 L80.7 270.6 L81.4 269.8 L82.2 270.1 L82.9 270.2 L83.7 271.1 L84.4 270.9 L85.2 270.0 L85.9 270.9 L86.7 270.0 L87.4 270.6 L88.2 269.9 L88.9 269.8 L89.7 271.0 L90.4 270.0 L91.2 270.0 L91.9 271.1 L92.7 270.9 L93.4 270.1 L94.2 271.0 L94.9 270.4 L95.7 270.6 L96.4 269.9 L97.2 270.9 L97.9 270.5 L98.7 270.8 L99.4 270.7 L100.2 269.8 L100.9 269.8 L101.7 269.4 L102.4 269.2 L103.2 269.0 L103.9 269.1 L104.7 269.4 L105.4 268.4 L106.2 269.2 L106.9 268.6 L107.7 268.4 L108.4 269.0 L109.2 268.4 L109.9 268.0 L110.7 268.1 L111.4 268.3 L112.2 267.2 L112.9 268.3 L113.7 266.9 L114.4 267.7 L115.2 267.5 L115.9 266.2 L116.7 266.8 L117.4 265.4 L118.2 264.4 L118.9 262.0 L119.7 260.0 L120.4 258.1 L121.2 257.2 L121.9 254.7 L122.7 254.8 L123.4 255.5 L124.2 256.8 L124.9 258.1 L125.7 260.6 L126.4 263.4 L127.2 266.2 L127.9 267.2 L128.7 269.6 L129.4 270.8 L130.2 271.7 L130.9 270.9 L131.7 272.4 L132.4 271.4 L133.2 271.9 L133.9 272.4 L134.7 272.9 L135.4 272.1 L136.2 273.0 L136.9 272.5 L137.7 272.2 L138.4 272.3 L139.2 272.2 L139.9 272.1 L140.7 272.2 L141.4 273.0 L142.2 273.5 L142.9 272.3 L143.7 272.2 L144.4 273.6 L145.2 273.0 L145.9 272.8 L146.7 272.6 L147.4 273.2 L148.2 273.5 L148.9 273.0 L149.7 273.0 L150.4 272.5 L151.2 273.8 L151.9 272.6 L152.7 273.2 L153.4 273.7 L154.2 272.8 L154.9 273.7 L155.7 274.0 L156.4 273.6 L157.2 273.8 L157.9 272.9 L158.7 273.4 L159.4 273.0 L160.2 274.0 L160.9 273.3 L161.7 273.6 L162.4 274.3 L163.2 274.2 L163.9 274.4 L164.7 273.7 L165.4 273.8 L166.2 274.1 L166.9 273.8 L167.7 273.6 L168.4 273.8 L169.2 273.4 L169.9 273.8 L170.7 274.7 L171.4 274.7 L172.2 274.2 L172.9 274.1 L173.7 273.9 L174.4 273.6 L175.2 273.9 L175.9 274.6 L176.7 274.8 L177.4 274.1 L178.2 274.7 L178.9 274.7 L179.7 274.6 L180.4 274.6 L181.2 274.8 L181.9 274.3 L182.7 274.8 L183.4 274.2 L184.2 274.5 L184.9 274.9 L185.7 274.0 L186.4 269.8 L187.2 263.1 L187.9 258.4 L188.7 263.6 L189.4 270.2 L190.2 274.2 L190.9 274.4 L191.7 275.1 L192.4 274.9 L193.2 275.4 L193.9 275.2 L194.7 275.4 L195.4 274.8 L196.2 275.3 L196.9 275.4 L197.7 275.6 L198.4 274.9 L199.2 275.7 L199.9 275.7 L200.7 275.5 L201.4 275.9 L202.2 276.0 L202.9 275.4 L203.7 275.4 L204.4 274.9 L205.2 275.9 L205.9 276.1 L206.7 275.5 L207.4 275.8 L208.2 275.9 L208.9 275.9 L209.7 275.2 L210.4 276.0 L211.2 275.8 L211.9 275.9 L212.7 275.6 L213.4 275.9 L214.2 276.1 L214.9 275.9 L215.7 276.1 L216.4 275.1 L217.2 275.3 L217.9 275.7 L218.7 276.1 L219.4 275.5 L220.2 276.1 L220.9 276.1 L221.7 275.3 L222.4 275.9 L223.2 275.6 L223.9 275.4 L224.7 275.5 L225.4 275.8 L226.2 275.6 L226.9 275.6 L227.7 275.4 L228.4 276.1 L229.2 276.0 L229.9 276.3 L230.7 276.3 L231.4 275.8 L232.2 276.8 L232.9 275.5 L233.7 276.1 L234.4 275.9 L235.2 276.1 L235.9 275.8 L236.7 276.7 L237.4 275.1 L238.2 270.0 L238.9 261.6 L239.7 255.9 L240.4 263.0 L241.2 271.6 L241.9 275.7 L242.7 277.0 L243.4 276.9 L244.2 276.3 L244.9 276.9 L245.7 276.7 L246.4 276.3 L247.2 276.0 L247.9 276.6 L248.7 276.6 L249.4 277.2 L250.2 277.2 L250.9 276.7 L251.7 276.3 L252.4 277.1 L253.2 275.9 L253.9 276.0 L254.7 276.7 L255.4 276.8 L256.1 276.1 L256.9 276.8 L257.6 277.2 L258.4 276.5 L259.1 276.6 L259.9 276.3 L260.6 276.4 L261.4 277.3 L262.1 276.5 L262.9 277.4 L263.6 277.3 L264.4 276.9 L265.1 276.4 L265.9 277.1 L266.6 274.3 L267.4 267.3 L268.1 258.6 L268.9 260.0 L269.6 268.2 L270.4 274.4 L271.1 276.5 L271.9 276.3 L272.6 277.0 L273.4 276.8 L274.1 276.6 L274.9 277.3 L275.6 277.3 L276.4 276.2 L277.1 276.9 L277.9 276.6 L278.6 277.5 L279.4 277.3 L280.1 276.6 L280.9 276.6 L281.6 276.5 L282.4 277.6 L283.1 276.7 L283.9 277.1 L284.6 277.0 L285.4 277.2 L286.1 277.2 L286.9 277.4 L287.6 276.5 L288.4 277.4 L289.1 276.8 L289.9 277.1 L290.6 276.8 L291.4 276.8 L292.1 277.1 L292.9 277.1 L293.6 276.9 L294.4 277.5 L295.1 277.3 L295.9 276.5 L296.6 276.8 L297.4 277.1 L298.1 277.8 L298.9 277.7 L299.6 277.3 L300.4 276.5 L301.1 277.6 L301.9 277.1 L302.6 277.4 L303.4 277.5 L304.1 277.5 L304.9 277.3 L305.6 277.9 L306.4 277.1 L307.1 277.2 L307.9 277.8 L308.6 276.9 L309.4 277.1 L310.1 277.8 L310.9 276.8 L311.6 277.9 L312.4 277.7 L313.1 277.3 L313.9 277.1 L314.6 277.8 L315.4 278.0 L316.1 277.0 L316.9 277.5 L317.6 277.6 L318.4 277.5 L319.1 277.3 L319.9 277.0 L320.6 277.7 L321.4 278.0 L322.1 277.0 L322.9 277.2 L323.6 278.0 L324.4 278.0 L325.1 277.8 L325.9 277.0 L326.6 278.0 L327.4 278.3 L328.1 278.4 L328.9 278.0 L329.6 277.1 L330.4 278.2 L331.1 277.3 L331.9 277.9 L332.6 278.4 L333.4 278.1 L334.1 277.3 L334.9 277.5 L335.6 278.4 L336.4 277.3 L337.1 278.0 L337.9 277.7 L338.6 277.4 L339.4 278.0 L340.1 277.2 L340.9 277.3 L341.6 277.7 L342.4 277.3 L343.1 277.3 L343.9 278.0 L344.6 278.3 L345.4 278.5 L346.1 277.5 L346.9 277.9 L347.6 277.7 L348.4 278.1 L349.1 278.0 L349.9 278.6 L350.6 277.9 L351.4 277.4 L352.1 278.3 L352.9 277.6 L353.6 278.3 L354.4 278.1 L355.1 278.7 L355.9 278.2 L356.6 278.3 L357.4 277.8 L358.1 278.2 L358.9 277.8 L359.6 278.5 L360.4 278.2 L361.1 277.7 L361.9 277.9 L362.6 278.1 L363.4 278.5 L364.1 277.3 L364.9 276.0 L365.6 270.5 L366.4 262.6 L367.1 261.3 L367.9 265.8 L368.6 272.8 L369.4 277.2 L370.1 277.7 L370.9 278.8 L371.6 278.3 L372.4 278.0 L373.1 278.7 L373.9 277.6 L374.6 278.6 L375.4 277.7 L376.1 277.8 L376.9 278.9 L377.6 278.5 L378.4 277.9 L379.1 277.7 L379.9 278.9 L380.6 278.5 L381.4 278.7 L382.1 277.8 L382.9 278.4 L383.6 278.1 L384.4 277.9 L385.1 278.0 L385.9 278.3 L386.6 277.0 L387.4 274.6 L388.1 271.7 L388.9 273.5 L389.6 276.1 L390.4 278.2 L391.1 278.1 L391.9 278.7 L392.6 278.3 L393.4 278.4 L394.1 278.4 L394.9 278.6 L395.6 278.1 L396.4 277.7 L397.1 277.6 L397.9 277.8 L398.6 277.6 L399.4 278.8 L400.1 278.2 L400.9 278.6 L401.6 277.5 L402.4 278.2 L403.1 278.8 L403.9 278.4 L404.6 278.1 L405.4 278.2 L406.1 277.7 L406.9 277.7 L407.6 277.8 L408.4 278.1 L409.1 278.1 L409.9 278.8 L410.6 277.7 L411.4 277.9 L412.1 277.9 L412.9 277.7 L413.6 277.9 L414.4 277.8 L415.1 278.2 L415.9 277.6 L416.6 278.8 L417.4 278.0 L418.1 278.8 L418.9 278.5 L419.6 278.5 L420.4 278.2 L421.1 278.8 L421.9 277.7 L422.6 278.4 L423.4 277.9 L424.1 278.4 L424.9 278.5 L425.6 277.7" fill="none" stroke="#7814dc" stroke-width="3.5" stroke-linejoin="round"/>
<line x1="69.4" y1="325.3" x2="426.2" y2="325.3" stroke="#1428f0" stroke-width="2.6"/>
<line x1="122.9" y1="325.3" x2="122.9" y2="311.3" stroke="#1428f0" stroke-width="2.4"/>
<line x1="175.0" y1="325.3" x2="175.0" y2="311.3" stroke="#1428f0" stroke-width="2.4"/>
<line x1="249.9" y1="325.3" x2="249.9" y2="311.5" stroke="#1428f0" stroke-width="2.4"/>
<line x1="279.9" y1="325.3" x2="279.9" y2="310.5" stroke="#1428f0" stroke-width="2.4"/>
<line x1="308.5" y1="325.3" x2="308.5" y2="320.6" stroke="#1428f0" stroke-width="2.4"/>
<line x1="359.8" y1="325.3" x2="359.8" y2="316.0" stroke="#1428f0" stroke-width="2.4"/>
<line x1="383.4" y1="325.3" x2="383.4" y2="316.0" stroke="#1428f0" stroke-width="2.4"/>
<line x1="405.5" y1="325.3" x2="405.5" y2="316.5" stroke="#1428f0" stroke-width="2.4"/>
<line x1="187.9" y1="370.2" x2="187.9" y2="353.1" stroke="#222" stroke-width="2.4"/>
<line x1="240.0" y1="370.2" x2="240.0" y2="354.5" stroke="#222" stroke-width="2.4"/>
<line x1="268.5" y1="370.2" x2="268.5" y2="363.3" stroke="#222" stroke-width="2.4"/>
<line x1="367.7" y1="370.2" x2="367.7" y2="355.7" stroke="#222" stroke-width="2.4"/>
<line x1="388.4" y1="370.2" x2="388.4" y2="365.8" stroke="#222" stroke-width="2.4"/>
<line x1="410.5" y1="370.2" x2="410.5" y2="367.0" stroke="#222" stroke-width="2.4"/>
<g font-family='"Liberation Sans", sans-serif' fill="#111" stroke="#fff" stroke-width="0.2">
<rect x="420" y="54.0" width="14" height="30.0" fill="#fff"/>
<rect x="420" y="99.0" width="14" height="29.0" fill="#fff"/>
<rect x="420" y="147.0" width="14" height="29.0" fill="#fff"/>
<rect x="420" y="194.0" width="14" height="28.0" fill="#fff"/>
<rect x="420" y="236.0" width="14" height="28.0" fill="#fff"/>
<rect x="420" y="282.0" width="14" height="25.0" fill="#fff"/>
<rect x="420" y="328.0" width="14" height="31.0" fill="#fff"/>
<text x="380.84" y="73.80" font-size="20.5" font-weight="bold" font-style="italic">t</text><text x="387.75" y="79.20" font-size="14.2" font-weight="bold" >ed</text><rect x="410.70" y="62.80" width="9.40" height="2.10"/><rect x="410.70" y="67.80" width="9.40" height="2.10"/><text x="426.61" y="73.80" font-size="20.5" font-weight="bold" >15 min</text><rect x="427.21" y="70.45" width="4.08" height="4.55" fill="#fff" stroke="none"/><rect x="434.31" y="70.45" width="3.73" height="4.55" fill="#fff" stroke="none"/>
<text x="380.84" y="118.80" font-size="20.5" font-weight="bold" font-style="italic">t</text><text x="387.75" y="124.20" font-size="14.2" font-weight="bold" >ed</text><rect x="410.70" y="107.80" width="9.40" height="2.10"/><rect x="410.70" y="112.80" width="9.40" height="2.10"/><text x="426.61" y="118.80" font-size="20.5" font-weight="bold" >10 min</text><rect x="427.21" y="115.45" width="4.08" height="4.55" fill="#fff" stroke="none"/><rect x="434.31" y="115.45" width="3.73" height="4.55" fill="#fff" stroke="none"/>
<text x="386.54" y="166.30" font-size="20.5" font-weight="bold" font-style="italic">t</text><text x="393.15" y="171.70" font-size="14.2" font-weight="bold" >ed</text><rect x="415.80" y="155.30" width="9.40" height="2.10"/><rect x="415.80" y="160.30" width="9.40" height="2.10"/><text x="432.44" y="166.30" font-size="20.5" font-weight="bold" >8 min</text>
<text x="386.54" y="212.10" font-size="20.5" font-weight="bold" font-style="italic">t</text><text x="393.15" y="217.50" font-size="14.2" font-weight="bold" >ed</text><rect x="415.80" y="201.10" width="9.40" height="2.10"/><rect x="415.80" y="206.10" width="9.40" height="2.10"/><text x="432.46" y="212.10" font-size="20.5" font-weight="bold" >5 min</text>
<text x="386.54" y="254.50" font-size="20.5" font-weight="bold" font-style="italic">t</text><text x="393.15" y="259.90" font-size="14.2" font-weight="bold" >ed</text><rect x="415.80" y="243.50" width="9.40" height="2.10"/><rect x="415.80" y="248.50" width="9.40" height="2.10"/><text x="432.38" y="254.50" font-size="20.5" font-weight="bold" >2 min</text>
<text x="307.34" y="302.0" font-size="20.0" font-weight="bold">Prussian Blue ICDD 00-005-0467</text>
<text x="396.91" y="349.3" font-size="19.8" font-weight="bold">SnO<tspan font-size="14.2" dy="5">2</tspan><tspan dy="-5"> ICDD 01-075-2893</tspan></text>
<rect x="516.48" y="346.02" width="3.96" height="4.48" fill="#fff" stroke="none"/><rect x="523.36" y="346.02" width="3.62" height="4.48" fill="#fff" stroke="none"/>
<text x="99.4" y="305.4" font-size="20.3" font-weight="bold" text-anchor="start" textLength="46.2" lengthAdjust="spacingAndGlyphs">(200)</text>
<text x="148.5" y="305.4" font-size="20.3" font-weight="bold" text-anchor="start" textLength="46.2" lengthAdjust="spacingAndGlyphs">(220)</text>
<text x="223.6" y="305.4" font-size="20.3" font-weight="bold" text-anchor="start" textLength="46.2" lengthAdjust="spacingAndGlyphs">(400)</text>
<text x="160.3" y="347.9" font-size="20.3" font-weight="bold" text-anchor="start" textLength="46.2" lengthAdjust="spacingAndGlyphs">(110)</text>
<rect x="167.46" y="344.57" width="3.95" height="4.53" fill="#fff" stroke="none"/><rect x="174.32" y="344.57" width="3.61" height="4.53" fill="#fff" stroke="none"/><rect x="178.47" y="344.57" width="3.95" height="4.53" fill="#fff" stroke="none"/><rect x="185.33" y="344.57" width="3.61" height="4.53" fill="#fff" stroke="none"/>
<text x="214.3" y="350.2" font-size="20.3" font-weight="bold" text-anchor="start" textLength="46.2" lengthAdjust="spacingAndGlyphs">(101)</text>
<rect x="221.46" y="346.87" width="3.95" height="4.53" fill="#fff" stroke="none"/><rect x="228.32" y="346.87" width="3.61" height="4.53" fill="#fff" stroke="none"/><rect x="243.48" y="346.87" width="3.95" height="4.53" fill="#fff" stroke="none"/><rect x="250.34" y="346.87" width="3.61" height="4.53" fill="#fff" stroke="none"/>
<text x="265.0" y="349.8" font-size="20.3" font-weight="bold" text-anchor="start" textLength="46.2" lengthAdjust="spacingAndGlyphs">(200)</text>

<text x="344.2" y="349.8" font-size="20.3" font-weight="bold" text-anchor="start" textLength="46.2" lengthAdjust="spacingAndGlyphs">(211)</text>
<rect x="362.37" y="346.47" width="3.95" height="4.53" fill="#fff" stroke="none"/><rect x="369.23" y="346.47" width="3.61" height="4.53" fill="#fff" stroke="none"/><rect x="373.38" y="346.47" width="3.95" height="4.53" fill="#fff" stroke="none"/><rect x="380.24" y="346.47" width="3.61" height="4.53" fill="#fff" stroke="none"/>
<text x="69.4" y="412.4" font-size="30.8" font-weight="bold" text-anchor="middle" stroke="#fff" stroke-width="0.3">10</text>
<rect x="53.28" y="407.57" width="6.08" height="6.23" fill="#fff" stroke="none"/><rect x="63.79" y="407.57" width="5.61" height="6.23" fill="#fff" stroke="none"/>
<text x="140.8" y="412.4" font-size="30.8" font-weight="bold" text-anchor="middle" stroke="#fff" stroke-width="0.3">20</text>

<text x="212.1" y="412.4" font-size="30.8" font-weight="bold" text-anchor="middle" stroke="#fff" stroke-width="0.3">30</text>

<text x="283.5" y="412.4" font-size="30.8" font-weight="bold" text-anchor="middle" stroke="#fff" stroke-width="0.3">40</text>

<text x="354.8" y="412.4" font-size="30.8" font-weight="bold" text-anchor="middle" stroke="#fff" stroke-width="0.3">50</text>

<text x="426.2" y="412.4" font-size="30.8" font-weight="bold" text-anchor="middle" stroke="#fff" stroke-width="0.3">60</text>

<text x="31.5" y="196" font-size="40" font-weight="bold" text-anchor="middle" transform="rotate(-90 31.5 196)" stroke="#fff" stroke-width="0.35">Intensity / a.u.</text>
<text x="226" y="459" font-size="39" font-weight="bold" stroke="none">2</text>
<text x="0" y="0" transform="translate(250.2 459.6) skewX(-7)" font-size="41" font-style="italic" font-family='"Liberation Serif", serif'>θ</text>
<text x="7.5" y="33.2" font-size="24.0" font-weight="bold" text-anchor="start" stroke="none">A)</text>
<text x="624.5" y="32.8" font-size="24.0" font-weight="bold" text-anchor="start" stroke="none">B)</text>
</g>
<g stroke="#222" stroke-width="2.6" fill="none">
<path d="M840.6 13.3 L1242.8 13.3 L1242.8 366.8 L840.6 366.8 Z" stroke-linejoin="round"/>
<line x1="835.4" y1="366.8" x2="840.6" y2="366.8"/>
<line x1="835.4" y1="316.3" x2="840.6" y2="316.3"/>
<line x1="835.4" y1="265.8" x2="840.6" y2="265.8"/>
<line x1="835.4" y1="215.3" x2="840.6" y2="215.3"/>
<line x1="835.4" y1="164.8" x2="840.6" y2="164.8"/>
<line x1="835.4" y1="114.3" x2="840.6" y2="114.3"/>
<line x1="835.4" y1="63.8" x2="840.6" y2="63.8"/>
<line x1="835.4" y1="13.3" x2="840.6" y2="13.3"/>
<line x1="840.6" y1="366.8" x2="840.6" y2="374"/>
<line x1="941.1" y1="366.8" x2="941.1" y2="374"/>
<line x1="1041.7" y1="366.8" x2="1041.7" y2="374"/>
<line x1="1142.2" y1="366.8" x2="1142.2" y2="374"/>
<line x1="1242.8" y1="366.8" x2="1242.8" y2="374"/>
</g>
<path d="M842.0 340.0 L842.1 341.4 L842.1 343.3 L842.2 345.5 L842.4 347.9 L842.5 350.1 L842.6 352.0 L842.7 353.6 L842.9 355.1 L843.0 356.5 L843.1 357.7 L843.3 358.9 L843.5 360.0 L843.7 361.0 L843.9 361.9 L844.1 362.6 L844.4 363.3 L844.7 364.0 L845.0 364.5 L845.3 365.0 L845.6 365.3 L845.8 365.6 L846.3 365.8 L847.0 366.0 L848.0 366.2 L845.2 366.4 L837.6 366.5 L830.3 366.6 L828.3 366.7 L836.5 366.7 L860.0 366.8 L906.7 366.8 L974.1 366.8 L1051.8 366.8 L1129.3 366.8 L1196.2 366.8 L1242.0 366.8" fill="none" stroke="#111" stroke-width="3.6" stroke-linejoin="round"/>
<path d="M841.8 295.0 L841.9 296.6 L842.0 298.7 L842.1 301.2 L842.3 304.1 L842.5 307.0 L842.6 310.0 L842.7 313.1 L842.9 316.5 L843.0 320.0 L843.1 323.5 L843.3 326.9 L843.4 330.0 L843.5 332.8 L843.7 335.5 L843.8 338.1 L844.0 340.5 L844.1 342.8 L844.3 345.0 L844.5 347.1 L844.7 349.1 L844.9 351.1 L845.2 352.9 L845.5 354.5 L845.8 356.0 L846.2 357.3 L846.5 358.5 L847.0 359.5 L847.4 360.4 L847.9 361.3 L848.5 362.0 L849.0 362.6 L849.4 363.1 L849.9 363.6 L850.5 363.9 L851.5 364.2 L853.0 364.5 L855.0 364.8 L857.3 365.0 L859.9 365.1 L862.9 365.3 L866.3 365.4 L870.0 365.5 L874.4 365.6 L879.6 365.7 L885.1 365.7 L890.6 365.8 L895.7 365.8 L900.0 365.8 L903.4 365.8 L906.2 365.7 L908.6 365.7 L910.8 365.6 L912.9 365.5 L915.0 365.3 L917.1 365.2 L919.1 365.1 L920.9 365.0 L922.8 364.8 L924.7 364.4 L926.9 363.8 L929.3 362.9 L931.9 361.8 L934.7 360.5 L937.4 359.1 L940.0 357.8 L942.5 356.5 L944.8 355.2 L947.1 353.9 L949.2 352.6 L951.3 351.3 L953.2 350.2 L955.0 349.2 L956.6 348.5 L958.0 347.9 L959.2 347.4 L960.4 347.1 L961.6 346.8 L963.0 346.5 L964.5 346.2 L966.0 346.0 L967.6 345.9 L969.2 345.8 L970.7 345.7 L972.2 345.7 L973.6 345.7 L974.8 345.8 L976.1 345.9 L977.3 346.1 L978.6 346.3 L980.0 346.5 L981.4 346.7 L982.8 346.9 L984.2 347.1 L985.7 347.3 L987.5 347.7 L989.4 348.1 L991.6 348.7 L994.1 349.4 L996.8 350.2 L999.6 351.0 L1002.3 351.8 L1005.0 352.6 L1007.6 353.4 L1010.2 354.2 L1012.8 355.0 L1015.4 355.8 L1018.0 356.6 L1020.6 357.3 L1023.2 358.0 L1025.8 358.7 L1028.4 359.4 L1031.1 360.1 L1033.7 360.7 L1036.3 361.3 L1038.9 361.8 L1041.4 362.3 L1043.9 362.8 L1046.5 363.2 L1049.2 363.6 L1051.9 363.9 L1054.6 364.2 L1057.3 364.4 L1060.1 364.6 L1063.0 364.7 L1066.3 364.9 L1070.0 365.0 L1074.0 365.1 L1078.0 365.2 L1082.4 365.3 L1087.3 365.4 L1093.1 365.4 L1100.0 365.5 L1109.0 365.6 L1120.0 365.7 L1131.9 365.8 L1143.3 365.9 L1153.1 365.9 L1160.0 366.0" fill="none" stroke="#7020c8" stroke-width="3.6" stroke-linejoin="round"/>
<path d="M841.8 244.0 L842.0 246.2 L842.2 249.2 L842.4 252.8 L842.7 256.8 L843.0 260.9 L843.3 265.0 L843.6 269.1 L843.9 273.3 L844.1 277.8 L844.4 282.3 L844.7 287.1 L845.0 292.0 L845.3 297.3 L845.5 302.9 L845.8 308.8 L846.1 314.5 L846.3 320.0 L846.6 325.0 L846.9 329.6 L847.1 333.9 L847.4 338.0 L847.6 341.7 L847.9 345.1 L848.2 348.0 L848.5 350.4 L848.8 352.4 L849.1 353.9 L849.5 355.2 L849.9 356.4 L850.3 357.5 L850.8 358.6 L851.2 359.5 L851.7 360.3 L852.3 360.9 L853.0 361.5 L853.7 362.0 L854.4 362.4 L855.1 362.7 L855.8 362.9 L856.8 363.0 L858.1 363.1 L860.0 363.3 L862.5 363.5 L865.7 363.7 L869.1 364.0 L872.8 364.2 L876.5 364.3 L880.0 364.5 L883.4 364.6 L886.9 364.8 L890.4 364.9 L893.8 365.0 L897.0 365.0 L900.0 365.0 L902.7 364.9 L905.3 364.8 L907.6 364.6 L909.9 364.3 L911.9 363.9 L913.9 363.5 L915.7 363.0 L917.3 362.6 L918.8 362.1 L920.1 361.4 L921.5 360.4 L922.8 359.0 L924.1 357.1 L925.5 354.9 L926.7 352.3 L928.0 349.6 L929.1 346.9 L930.2 344.3 L931.2 341.8 L932.2 339.4 L933.0 336.9 L933.9 334.4 L934.7 332.0 L935.4 329.5 L936.1 327.0 L936.7 324.6 L937.2 322.1 L937.8 319.6 L938.3 317.2 L939.0 314.8 L939.8 312.5 L940.6 310.3 L941.5 308.2 L942.4 306.0 L943.2 303.6 L944.0 301.0 L944.7 298.1 L945.3 295.1 L945.8 291.8 L946.4 288.5 L946.9 285.2 L947.5 282.0 L948.1 278.7 L948.8 275.4 L949.4 272.0 L950.1 268.7 L950.7 265.7 L951.3 263.0 L951.9 260.6 L952.4 258.5 L952.9 256.6 L953.4 254.9 L954.0 253.4 L954.5 252.0 L955.1 250.8 L955.6 249.8 L956.2 249.0 L956.8 248.3 L957.4 247.6 L958.0 247.0 L958.6 246.4 L959.2 245.8 L959.8 245.3 L960.3 244.9 L960.9 244.5 L961.5 244.2 L962.1 244.0 L962.7 243.8 L963.3 243.7 L963.9 243.7 L964.4 243.7 L965.0 243.8 L965.5 244.0 L965.9 244.2 L966.3 244.5 L966.7 244.9 L967.3 245.4 L968.0 246.0 L968.9 246.7 L970.0 247.5 L971.1 248.4 L972.4 249.4 L973.7 250.4 L975.0 251.5 L976.3 252.5 L977.5 253.5 L978.8 254.5 L980.3 255.7 L981.9 257.3 L983.8 259.3 L986.2 262.0 L988.9 265.4 L991.9 269.1 L994.9 272.8 L997.7 276.1 L1000.0 278.9 L1001.9 280.9 L1003.4 282.5 L1004.7 283.7 L1005.9 284.9 L1007.1 286.0 L1008.4 287.4 L1009.8 289.0 L1011.2 290.6 L1012.6 292.2 L1014.1 293.9 L1015.5 295.7 L1016.9 297.5 L1018.2 299.4 L1019.5 301.3 L1020.8 303.2 L1022.1 305.3 L1023.6 307.5 L1025.3 310.0 L1027.3 312.8 L1029.4 315.9 L1031.7 319.2 L1034.1 322.5 L1036.5 325.8 L1039.0 328.8 L1041.5 331.7 L1043.9 334.4 L1046.5 337.2 L1049.1 339.8 L1051.8 342.2 L1054.7 344.5 L1057.7 346.6 L1060.8 348.6 L1064.0 350.5 L1067.3 352.2 L1070.7 353.8 L1074.2 355.2 L1077.8 356.5 L1081.4 357.6 L1085.2 358.6 L1089.1 359.5 L1093.2 360.3 L1097.7 361.0 L1102.4 361.7 L1107.2 362.2 L1112.2 362.7 L1117.6 363.1 L1123.5 363.5 L1130.0 363.8 L1137.2 364.1 L1144.9 364.4 L1153.1 364.6 L1161.8 364.7 L1170.7 364.9 L1180.0 365.0 L1190.4 365.1 L1202.2 365.2 L1214.4 365.2 L1225.8 365.3 L1235.6 365.3 L1242.5 365.3" fill="none" stroke="#1414b4" stroke-width="3.6" stroke-linejoin="round"/>
<path d="M841.8 213.0 L842.0 215.6 L842.2 219.2 L842.5 223.5 L842.8 228.2 L843.2 233.1 L843.5 238.0 L843.8 242.9 L844.1 248.0 L844.5 253.4 L844.8 258.9 L845.2 264.4 L845.5 270.0 L845.8 275.7 L846.2 281.6 L846.5 287.6 L846.8 293.6 L847.2 299.4 L847.5 305.0 L847.8 310.5 L848.2 315.9 L848.5 321.2 L848.8 326.3 L849.2 330.9 L849.5 335.0 L849.8 338.5 L850.2 341.4 L850.5 344.0 L850.8 346.2 L851.2 348.2 L851.5 350.0 L851.8 351.6 L852.1 352.8 L852.3 353.8 L852.6 354.6 L853.0 355.3 L853.5 356.0 L854.0 356.7 L854.5 357.3 L855.1 357.8 L855.9 358.2 L856.8 358.6 L858.0 359.0 L859.5 359.3 L861.1 359.6 L863.0 359.9 L865.1 360.1 L867.5 360.3 L870.0 360.5 L872.9 360.7 L876.1 360.9 L879.5 361.1 L883.1 361.2 L886.6 361.4 L890.0 361.5 L893.4 361.7 L897.0 361.9 L900.5 362.0 L903.9 362.2 L907.0 362.2 L909.5 362.0 L911.5 361.7 L912.9 361.5 L914.1 361.1 L915.0 360.5 L915.9 359.6 L916.9 358.3 L918.0 356.6 L919.0 354.4 L920.0 352.0 L921.0 349.4 L921.9 346.8 L922.8 344.3 L923.6 341.9 L924.4 339.4 L925.1 336.9 L925.8 334.5 L926.5 332.0 L927.2 329.5 L927.9 327.0 L928.5 324.6 L929.1 322.1 L929.7 319.6 L930.3 317.2 L930.9 314.8 L931.5 312.5 L932.0 310.3 L932.6 308.2 L933.1 306.0 L933.7 303.6 L934.2 301.0 L934.7 298.1 L935.3 295.1 L935.9 291.8 L936.4 288.5 L936.9 285.2 L937.4 282.0 L937.9 278.8 L938.3 275.7 L938.7 272.5 L939.1 269.3 L939.5 266.2 L939.9 263.0 L940.3 259.8 L940.6 256.5 L941.0 253.2 L941.3 250.0 L941.7 246.9 L942.1 244.0 L942.6 241.4 L943.0 239.1 L943.6 236.9 L944.1 234.8 L944.6 232.5 L945.1 230.0 L945.6 227.2 L946.1 224.1 L946.6 221.0 L947.0 217.8 L947.5 214.8 L948.0 212.1 L948.5 209.7 L949.0 207.4 L949.4 205.2 L949.9 203.2 L950.4 201.3 L950.8 199.5 L951.2 197.7 L951.6 196.1 L952.0 194.5 L952.4 193.0 L952.8 191.7 L953.2 190.5 L953.6 189.5 L953.9 188.6 L954.3 187.9 L954.6 187.3 L955.0 186.8 L955.5 186.3 L956.1 185.9 L956.7 185.7 L957.4 185.6 L958.1 185.5 L958.8 185.4 L959.5 185.4 L960.1 185.4 L960.8 185.3 L961.4 185.4 L962.1 185.4 L962.7 185.6 L963.2 185.8 L963.7 186.1 L964.1 186.5 L964.5 186.9 L964.8 187.4 L965.2 188.1 L965.6 188.8 L965.9 189.6 L966.2 190.5 L966.5 191.4 L966.8 192.5 L967.3 193.9 L968.0 195.5 L968.9 197.5 L970.0 199.9 L971.3 202.5 L972.6 205.2 L974.0 207.9 L975.3 210.4 L976.6 212.8 L978.0 215.1 L979.4 217.3 L980.8 219.6 L982.3 221.8 L983.8 223.9 L985.4 226.0 L987.2 228.0 L989.0 230.0 L990.8 232.0 L992.4 233.9 L993.9 235.7 L995.1 237.4 L996.1 239.0 L997.1 240.6 L997.9 242.1 L998.9 243.6 L1000.0 245.2 L1001.3 246.8 L1002.6 248.5 L1004.0 250.2 L1005.5 251.9 L1007.0 253.6 L1008.4 255.3 L1009.8 257.0 L1011.3 258.7 L1012.8 260.4 L1014.2 262.1 L1015.6 263.8 L1016.9 265.4 L1018.2 267.0 L1019.4 268.6 L1020.6 270.1 L1021.7 271.6 L1022.7 273.1 L1023.6 274.5 L1024.3 275.8 L1024.9 277.1 L1025.4 278.4 L1025.9 279.6 L1026.4 280.8 L1027.0 282.0 L1027.7 283.2 L1028.5 284.3 L1029.3 285.5 L1030.2 286.7 L1031.1 287.8 L1032.1 289.1 L1033.1 290.4 L1034.2 291.7 L1035.3 293.1 L1036.5 294.5 L1037.7 296.0 L1038.8 297.5 L1040.0 299.1 L1041.2 300.8 L1042.4 302.6 L1043.6 304.4 L1044.7 306.0 L1045.6 307.6 L1046.3 309.0 L1046.8 310.2 L1047.2 311.4 L1047.6 312.6 L1048.1 313.8 L1048.8 315.2 L1049.8 316.7 L1050.9 318.3 L1052.1 320.0 L1053.4 321.7 L1054.7 323.3 L1056.0 325.0 L1057.2 326.6 L1058.4 328.0 L1059.6 329.5 L1061.0 331.0 L1062.5 332.7 L1064.5 334.7 L1066.9 337.0 L1069.6 339.7 L1072.6 342.6 L1075.7 345.4 L1078.9 348.0 L1082.0 350.3 L1085.1 352.2 L1088.2 353.9 L1091.3 355.4 L1094.6 356.8 L1098.0 358.0 L1101.6 359.1 L1105.4 360.1 L1109.2 360.8 L1113.1 361.5 L1117.4 362.1 L1122.0 362.5 L1127.0 363.0 L1132.8 363.4 L1139.2 363.7 L1146.0 364.0 L1152.8 364.2 L1159.3 364.4 L1165.0 364.6 L1170.2 364.7 L1175.2 364.8 L1179.9 364.9 L1184.0 364.9 L1187.4 365.0 L1190.0 365.0" fill="none" stroke="#1ec81e" stroke-width="3.6" stroke-linejoin="round"/>
<path d="M841.8 218.0 L842.0 220.2 L842.2 223.2 L842.5 226.8 L842.8 230.9 L843.2 235.3 L843.5 240.0 L843.9 245.0 L844.3 250.5 L844.7 256.4 L845.1 262.5 L845.6 268.7 L846.0 275.0 L846.4 281.6 L846.8 288.5 L847.2 295.6 L847.7 302.6 L848.1 309.1 L848.5 315.0 L848.9 320.2 L849.3 325.0 L849.8 329.4 L850.2 333.3 L850.6 336.9 L851.0 340.0 L851.4 342.6 L851.8 344.6 L852.2 346.2 L852.6 347.6 L853.1 348.8 L853.5 350.0 L853.9 351.2 L854.3 352.2 L854.6 353.0 L855.1 353.8 L855.7 354.4 L856.5 355.0 L857.5 355.4 L858.7 355.7 L860.0 355.9 L861.5 356.1 L863.1 356.3 L865.0 356.5 L867.1 356.8 L869.5 357.1 L872.1 357.4 L874.8 357.7 L877.4 358.0 L880.0 358.3 L882.6 358.6 L885.3 358.8 L888.0 359.1 L890.6 359.3 L893.0 359.5 L895.0 359.6 L896.7 359.7 L898.0 359.8 L899.2 359.9 L900.2 359.9 L901.1 359.9 L902.1 359.8 L903.0 359.6 L903.9 359.4 L904.7 359.1 L905.4 358.8 L906.2 358.4 L907.0 358.0 L907.9 357.6 L908.8 357.2 L909.7 356.8 L910.6 356.3 L911.6 355.6 L912.5 354.6 L913.5 353.3 L914.5 351.8 L915.5 350.2 L916.5 348.3 L917.5 346.4 L918.4 344.3 L919.2 342.1 L920.0 339.7 L920.8 337.2 L921.5 334.6 L922.2 332.0 L922.8 329.5 L923.4 327.0 L923.9 324.6 L924.4 322.1 L924.9 319.6 L925.3 317.2 L925.8 314.8 L926.3 312.5 L926.7 310.3 L927.2 308.2 L927.6 306.0 L928.0 303.6 L928.5 301.0 L929.0 298.1 L929.4 295.1 L929.9 291.8 L930.4 288.5 L930.8 285.2 L931.3 282.0 L931.7 278.8 L932.2 275.7 L932.6 272.5 L933.0 269.3 L933.4 266.2 L933.8 263.0 L934.2 259.8 L934.6 256.7 L935.0 253.5 L935.4 250.3 L935.7 247.1 L936.1 244.0 L936.5 240.9 L936.8 237.8 L937.2 234.7 L937.5 231.6 L937.9 228.5 L938.2 225.4 L938.5 222.3 L938.8 219.1 L939.1 216.0 L939.4 212.8 L939.7 209.7 L940.0 206.5 L940.3 203.3 L940.6 200.2 L940.9 197.0 L941.2 193.8 L941.6 190.7 L941.9 187.5 L942.3 184.3 L942.6 180.9 L943.0 177.6 L943.4 174.4 L943.8 171.3 L944.2 168.5 L944.6 166.0 L945.0 163.7 L945.4 161.5 L945.8 159.5 L946.1 157.7 L946.5 156.0 L946.9 154.4 L947.2 153.1 L947.5 151.8 L947.8 150.7 L948.2 149.7 L948.5 148.8 L948.8 148.0 L949.1 147.3 L949.4 146.8 L949.8 146.3 L950.1 145.9 L950.5 145.6 L950.9 145.3 L951.4 145.1 L951.9 144.9 L952.5 144.9 L953.0 144.8 L953.5 144.8 L954.0 144.8 L954.5 144.9 L955.1 145.0 L955.6 145.1 L956.1 145.3 L956.5 145.6 L956.9 145.9 L957.2 146.3 L957.5 146.8 L957.8 147.3 L958.1 148.0 L958.5 148.8 L958.8 149.6 L959.2 150.4 L959.5 151.2 L959.9 152.4 L960.4 153.9 L961.0 156.0 L961.8 158.9 L962.7 162.5 L963.7 166.5 L964.8 170.6 L965.9 174.5 L967.0 178.0 L968.1 181.0 L969.1 183.7 L970.2 186.2 L971.4 188.6 L972.5 191.0 L973.6 193.5 L974.7 196.1 L975.7 198.6 L976.8 201.1 L977.9 203.6 L979.1 206.2 L980.4 208.7 L981.9 211.3 L983.5 213.9 L985.3 216.6 L987.1 219.1 L988.8 221.6 L990.5 223.9 L992.1 226.0 L993.8 227.9 L995.4 229.8 L996.9 231.5 L998.5 233.2 L1000.0 235.0 L1001.5 236.8 L1002.9 238.7 L1004.3 240.5 L1005.6 242.2 L1007.0 243.8 L1008.4 245.2 L1009.8 246.3 L1011.3 247.3 L1012.8 248.1 L1014.2 248.8 L1015.6 249.5 L1016.9 250.3 L1018.2 251.1 L1019.4 251.9 L1020.6 252.7 L1021.7 253.5 L1022.7 254.4 L1023.6 255.3 L1024.3 256.3 L1024.9 257.4 L1025.3 258.6 L1025.7 259.8 L1026.3 261.0 L1027.0 262.1 L1028.0 263.2 L1029.1 264.3 L1030.3 265.3 L1031.5 266.4 L1032.7 267.6 L1033.8 268.8 L1034.7 270.1 L1035.5 271.4 L1036.3 272.8 L1037.1 274.3 L1037.9 275.8 L1038.8 277.3 L1039.8 278.9 L1040.9 280.5 L1042.1 282.2 L1043.3 284.0 L1044.5 285.7 L1045.6 287.4 L1046.7 289.1 L1047.9 290.8 L1049.1 292.4 L1050.2 294.1 L1051.3 295.8 L1052.3 297.5 L1053.2 299.1 L1054.0 300.7 L1054.8 302.3 L1055.6 303.9 L1056.4 305.7 L1057.4 307.6 L1058.5 309.8 L1059.8 312.1 L1061.1 314.6 L1062.4 317.2 L1063.7 319.6 L1065.0 322.0 L1066.1 324.2 L1067.1 326.3 L1068.2 328.4 L1069.3 330.5 L1070.6 332.5 L1072.3 334.7 L1074.4 337.0 L1076.7 339.4 L1079.3 341.8 L1082.1 344.2 L1085.0 346.4 L1087.9 348.4 L1090.8 350.2 L1093.7 351.8 L1096.8 353.3 L1100.0 354.7 L1103.5 355.9 L1107.4 357.1 L1111.6 358.2 L1115.9 359.1 L1120.6 360.0 L1125.5 360.8 L1130.9 361.4 L1136.7 362.0 L1143.0 362.5 L1149.8 362.8 L1157.1 363.1 L1164.6 363.2 L1172.2 363.4 L1180.0 363.6 L1188.5 363.8 L1198.0 364.0 L1207.7 364.1 L1216.8 364.2 L1224.5 364.3 L1230.0 364.4" fill="none" stroke="#f5a51e" stroke-width="3.6" stroke-linejoin="round"/>
<path d="M841.8 183.3 L842.0 185.6 L842.2 188.7 L842.5 192.5 L842.8 196.6 L843.2 200.8 L843.5 205.0 L843.8 209.2 L844.1 213.5 L844.5 218.0 L844.8 222.6 L845.2 227.3 L845.5 232.0 L845.8 236.8 L846.2 241.7 L846.5 246.6 L846.8 251.7 L847.2 256.8 L847.5 262.0 L847.8 267.4 L848.2 273.0 L848.5 278.7 L848.8 284.3 L849.2 289.8 L849.5 295.0 L849.8 300.1 L850.2 305.1 L850.5 310.0 L850.8 314.6 L851.2 318.6 L851.5 322.0 L851.8 324.6 L852.1 326.5 L852.5 327.8 L852.8 328.9 L853.1 329.9 L853.5 331.0 L853.8 332.1 L854.2 333.2 L854.5 334.1 L854.9 335.0 L855.4 335.8 L856.0 336.5 L856.7 337.2 L857.6 337.7 L858.5 338.2 L859.5 338.7 L860.7 339.2 L862.0 339.8 L863.6 340.4 L865.4 341.1 L867.4 341.8 L869.4 342.5 L871.3 343.1 L873.0 343.7 L874.4 344.2 L875.6 344.7 L876.7 345.1 L877.8 345.5 L878.9 346.0 L880.0 346.5 L881.2 347.2 L882.4 347.9 L883.6 348.7 L884.9 349.5 L886.1 350.2 L887.4 350.9 L888.7 351.6 L890.1 352.2 L891.5 352.9 L892.9 353.4 L894.2 353.8 L895.5 353.9 L896.7 353.8 L897.8 353.5 L898.8 353.1 L899.9 352.5 L901.0 351.8 L902.1 350.9 L903.3 349.9 L904.6 348.8 L905.9 347.5 L907.2 346.1 L908.4 344.5 L909.5 342.8 L910.5 340.9 L911.5 338.8 L912.4 336.6 L913.2 334.2 L914.0 331.9 L914.7 329.5 L915.3 327.3 L915.8 325.4 L916.3 323.4 L916.7 321.1 L917.1 318.3 L917.6 314.8 L918.1 310.2 L918.7 304.7 L919.3 298.7 L919.9 292.6 L920.4 286.9 L920.9 282.0 L921.3 278.0 L921.7 274.6 L922.1 271.6 L922.5 268.8 L922.8 266.0 L923.2 263.0 L923.6 259.9 L924.0 257.0 L924.5 254.1 L924.9 251.0 L925.3 247.7 L925.6 244.0 L925.9 239.8 L926.2 235.0 L926.4 230.0 L926.6 225.0 L926.9 220.2 L927.1 216.0 L927.4 212.3 L927.6 209.0 L927.9 205.9 L928.1 203.0 L928.4 200.1 L928.6 197.0 L928.8 193.8 L929.0 190.7 L929.2 187.5 L929.4 184.3 L929.7 181.2 L929.9 178.0 L930.2 174.8 L930.5 171.7 L930.8 168.5 L931.1 165.3 L931.5 162.2 L931.8 159.0 L932.1 156.1 L932.4 153.4 L932.7 150.8 L933.0 147.9 L933.3 144.4 L933.7 140.0 L934.2 134.5 L934.7 127.9 L935.2 120.8 L935.8 113.5 L936.3 106.4 L936.9 100.0 L937.5 94.0 L938.1 88.2 L938.6 82.6 L939.3 77.3 L939.9 72.4 L940.5 68.0 L941.2 63.8 L941.8 59.9 L942.5 56.2 L943.2 53.3 L943.9 51.1 L944.5 50.0 L945.1 50.2 L945.6 51.6 L946.0 53.8 L946.5 56.4 L947.0 59.3 L947.5 62.0 L948.0 64.4 L948.4 66.8 L948.9 69.4 L949.4 72.3 L950.0 75.8 L950.8 80.0 L951.8 85.4 L953.0 92.0 L954.3 99.1 L955.7 106.1 L956.9 112.7 L958.0 118.0 L958.9 122.1 L959.7 125.3 L960.5 128.0 L961.1 130.3 L961.8 132.6 L962.5 135.0 L963.2 137.6 L963.8 140.0 L964.5 142.4 L965.1 144.8 L965.7 147.1 L966.4 149.5 L967.1 151.9 L967.7 154.3 L968.4 156.7 L969.1 159.1 L969.8 161.6 L970.5 164.0 L971.3 166.5 L972.0 169.0 L972.8 171.6 L973.6 174.1 L974.5 176.6 L975.3 179.0 L976.1 181.3 L977.0 183.6 L977.9 185.8 L978.8 187.9 L979.6 190.0 L980.5 192.0 L981.4 193.9 L982.2 195.8 L983.0 197.6 L983.9 199.4 L984.7 201.1 L985.6 202.7 L986.5 204.2 L987.3 205.7 L988.2 207.1 L989.1 208.5 L990.0 209.7 L991.0 211.0 L992.0 212.2 L993.0 213.3 L994.1 214.4 L995.2 215.4 L996.3 216.5 L997.5 217.5 L998.7 218.5 L1000.0 219.5 L1001.2 220.5 L1002.6 221.5 L1004.1 222.5 L1005.7 223.5 L1007.6 224.5 L1009.7 225.5 L1012.0 226.6 L1014.2 227.6 L1016.3 228.5 L1018.1 229.3 L1019.6 230.0 L1021.0 230.5 L1022.2 231.0 L1023.3 231.4 L1024.3 231.9 L1025.3 232.5 L1026.2 233.1 L1027.0 233.8 L1027.6 234.5 L1028.3 235.3 L1028.9 236.0 L1029.5 236.8 L1030.1 237.7 L1030.7 238.8 L1031.2 239.9 L1031.8 240.8 L1032.3 241.5 L1032.9 241.8 L1033.4 241.4 L1034.0 240.5 L1034.5 239.3 L1035.0 238.1 L1035.6 237.2 L1036.3 236.8 L1037.0 237.1 L1037.8 237.8 L1038.7 238.8 L1039.6 239.9 L1040.5 241.0 L1041.4 241.8 L1042.3 242.3 L1043.3 242.7 L1044.2 243.0 L1045.2 243.3 L1046.3 243.7 L1047.3 244.3 L1048.4 245.1 L1049.5 246.0 L1050.7 247.0 L1051.9 248.1 L1053.0 249.2 L1054.0 250.3 L1054.9 251.4 L1055.8 252.4 L1056.7 253.5 L1057.5 254.6 L1058.3 255.8 L1059.1 257.0 L1059.9 258.2 L1060.7 259.5 L1061.5 260.8 L1062.3 262.2 L1063.2 263.7 L1064.1 265.4 L1065.1 267.4 L1066.3 269.6 L1067.5 271.9 L1068.7 274.3 L1069.8 276.7 L1070.9 278.9 L1071.9 281.0 L1072.8 283.1 L1073.6 285.1 L1074.4 287.0 L1075.2 288.9 L1075.9 290.8 L1076.5 292.5 L1077.0 294.0 L1077.4 295.5 L1077.8 297.0 L1078.5 298.8 L1079.3 300.9 L1080.4 303.5 L1081.7 306.5 L1083.2 309.7 L1084.8 313.0 L1086.3 316.1 L1087.9 319.0 L1089.4 321.6 L1091.0 324.0 L1092.6 326.2 L1094.2 328.4 L1095.9 330.6 L1097.7 332.7 L1099.5 334.8 L1101.2 336.8 L1103.1 338.8 L1105.0 340.7 L1107.1 342.6 L1109.4 344.5 L1112.0 346.4 L1114.8 348.4 L1117.7 350.3 L1120.8 352.1 L1123.9 353.8 L1127.0 355.2 L1130.0 356.4 L1133.0 357.3 L1136.0 358.1 L1139.2 358.8 L1142.7 359.5 L1146.5 360.1 L1150.9 360.7 L1155.9 361.3 L1161.1 361.9 L1166.3 362.4 L1171.3 362.8 L1175.8 363.2 L1179.9 363.5 L1184.0 363.8 L1187.7 364.1 L1191.1 364.3 L1193.9 364.5 L1196.0 364.6" fill="none" stroke="#e8101a" stroke-width="3.6" stroke-linejoin="round"/>
<g font-family='"Liberation Sans", sans-serif' fill="#111" stroke="#fff" stroke-width="0.2">
<text x="831.9" y="377.6" font-size="30.8" font-weight="bold" text-anchor="end" stroke="#fff" stroke-width="0.3">0</text>

<text x="831.9" y="327.1" font-size="30.8" font-weight="bold" text-anchor="end" stroke="#fff" stroke-width="0.3">2</text>

<text x="831.9" y="276.6" font-size="30.8" font-weight="bold" text-anchor="end" stroke="#fff" stroke-width="0.3">4</text>

<text x="831.9" y="226.1" font-size="30.8" font-weight="bold" text-anchor="end" stroke="#fff" stroke-width="0.3">6</text>

<text x="831.9" y="175.6" font-size="30.8" font-weight="bold" text-anchor="end" stroke="#fff" stroke-width="0.3">8</text>

<text x="831.9" y="125.1" font-size="30.8" font-weight="bold" text-anchor="end" stroke="#fff" stroke-width="0.3">10</text>
<rect x="798.66" y="120.27" width="6.08" height="6.23" fill="#fff" stroke="none"/><rect x="809.17" y="120.27" width="5.61" height="6.23" fill="#fff" stroke="none"/>
<text x="831.9" y="74.6" font-size="30.8" font-weight="bold" text-anchor="end" stroke="#fff" stroke-width="0.3">12</text>
<rect x="798.66" y="69.77" width="6.08" height="6.23" fill="#fff" stroke="none"/><rect x="809.17" y="69.77" width="5.61" height="6.23" fill="#fff" stroke="none"/>
<text x="831.9" y="24.1" font-size="30.8" font-weight="bold" text-anchor="end" stroke="#fff" stroke-width="0.3">14</text>
<rect x="798.66" y="19.27" width="6.08" height="6.23" fill="#fff" stroke="none"/><rect x="809.17" y="19.27" width="5.61" height="6.23" fill="#fff" stroke="none"/>
<text x="840.6" y="408.3" font-size="30.8" font-weight="bold" text-anchor="middle" stroke="#fff" stroke-width="0.3">300</text>

<text x="941.1" y="408.3" font-size="30.8" font-weight="bold" text-anchor="middle" stroke="#fff" stroke-width="0.3">600</text>

<text x="1041.7" y="408.3" font-size="30.8" font-weight="bold" text-anchor="middle" stroke="#fff" stroke-width="0.3">900</text>

<text x="1142.2" y="408.3" font-size="30.8" font-weight="bold" text-anchor="middle" stroke="#fff" stroke-width="0.3">1200</text>
<rect x="1109.01" y="403.47" width="6.08" height="6.23" fill="#fff" stroke="none"/><rect x="1119.52" y="403.47" width="5.61" height="6.23" fill="#fff" stroke="none"/>
<text x="1242.8" y="408.3" font-size="30.8" font-weight="bold" text-anchor="middle" stroke="#fff" stroke-width="0.3">1500</text>
<rect x="1209.56" y="403.47" width="6.08" height="6.23" fill="#fff" stroke="none"/><rect x="1220.07" y="403.47" width="5.61" height="6.23" fill="#fff" stroke="none"/>
<text x="784.3" y="194.6" font-size="35.6" font-weight="bold" text-anchor="middle" transform="rotate(-90 784.3 194.6)" stroke="#fff" stroke-width="0.35">Kubelka-Munk</text>
<text x="1041.9" y="462.3" font-size="35.4" font-weight="bold" text-anchor="middle" stroke="#fff" stroke-width="0.35">Wavelength / nm</text>
<line x1="1051.9" y1="54.9" x2="1093.5" y2="54.9" stroke="#e8101a" stroke-width="3.2"/>
<line x1="1051.9" y1="84.0" x2="1093.5" y2="84.0" stroke="#f5a51e" stroke-width="3.2"/>
<line x1="1051.9" y1="112.4" x2="1093.5" y2="112.4" stroke="#1ec81e" stroke-width="3.2"/>
<line x1="1051.9" y1="140.8" x2="1093.5" y2="140.8" stroke="#1414b4" stroke-width="3.2"/>
<line x1="1051.9" y1="169.1" x2="1093.5" y2="169.1" stroke="#7020c8" stroke-width="3.2"/>
<line x1="1051.9" y1="197.3" x2="1093.5" y2="197.3" stroke="#111" stroke-width="3.2"/>
<text x="1102.94" y="61.50" font-size="20.5" font-weight="bold" font-style="italic">t</text><text x="1110.05" y="66.90" font-size="14.2" font-weight="bold" >ed</text><rect x="1134.10" y="51.10" width="8.90" height="1.95"/><rect x="1134.10" y="54.70" width="8.90" height="1.95"/><text x="1149.71" y="61.50" font-size="20.5" font-weight="bold" >15 min</text><rect x="1150.31" y="58.15" width="4.08" height="4.55" fill="#fff" stroke="none"/><rect x="1157.41" y="58.15" width="3.73" height="4.55" fill="#fff" stroke="none"/>
<text x="1099.64" y="89.50" font-size="20.5" font-weight="bold" font-style="italic">t</text><text x="1107.15" y="94.90" font-size="14.2" font-weight="bold" >ed</text><rect x="1129.20" y="79.10" width="8.90" height="1.95"/><rect x="1129.20" y="82.70" width="8.90" height="1.95"/><text x="1146.21" y="89.50" font-size="20.5" font-weight="bold" >10 min</text><rect x="1146.81" y="86.15" width="4.08" height="4.55" fill="#fff" stroke="none"/><rect x="1153.91" y="86.15" width="3.73" height="4.55" fill="#fff" stroke="none"/>
<text x="1099.64" y="118.00" font-size="20.5" font-weight="bold" font-style="italic">t</text><text x="1106.95" y="123.40" font-size="14.2" font-weight="bold" >ed</text><rect x="1128.80" y="107.60" width="8.90" height="1.95"/><rect x="1128.80" y="111.20" width="8.90" height="1.95"/><text x="1146.74" y="118.00" font-size="20.5" font-weight="bold" >8</text><text x="1161.65" y="118.00" font-size="20.5" font-weight="bold" >min</text>
<text x="1099.64" y="146.30" font-size="20.5" font-weight="bold" font-style="italic">t</text><text x="1106.95" y="151.70" font-size="14.2" font-weight="bold" >ed</text><rect x="1129.20" y="135.90" width="8.90" height="1.95"/><rect x="1129.20" y="139.50" width="8.90" height="1.95"/><text x="1146.46" y="146.30" font-size="20.5" font-weight="bold" >5</text><text x="1161.25" y="146.30" font-size="20.5" font-weight="bold" >min</text>
<text x="1099.64" y="174.40" font-size="20.5" font-weight="bold" font-style="italic">t</text><text x="1106.95" y="179.80" font-size="14.2" font-weight="bold" >ed</text><rect x="1129.20" y="164.00" width="8.90" height="1.95"/><rect x="1129.20" y="167.60" width="8.90" height="1.95"/><text x="1146.38" y="174.40" font-size="20.5" font-weight="bold" >2</text><text x="1161.25" y="174.40" font-size="20.5" font-weight="bold" >min</text>
<text x="1099.13" y="202.30" font-size="20.5" font-weight="bold" >FTO</text>
</g>
</svg>
</body></html>
